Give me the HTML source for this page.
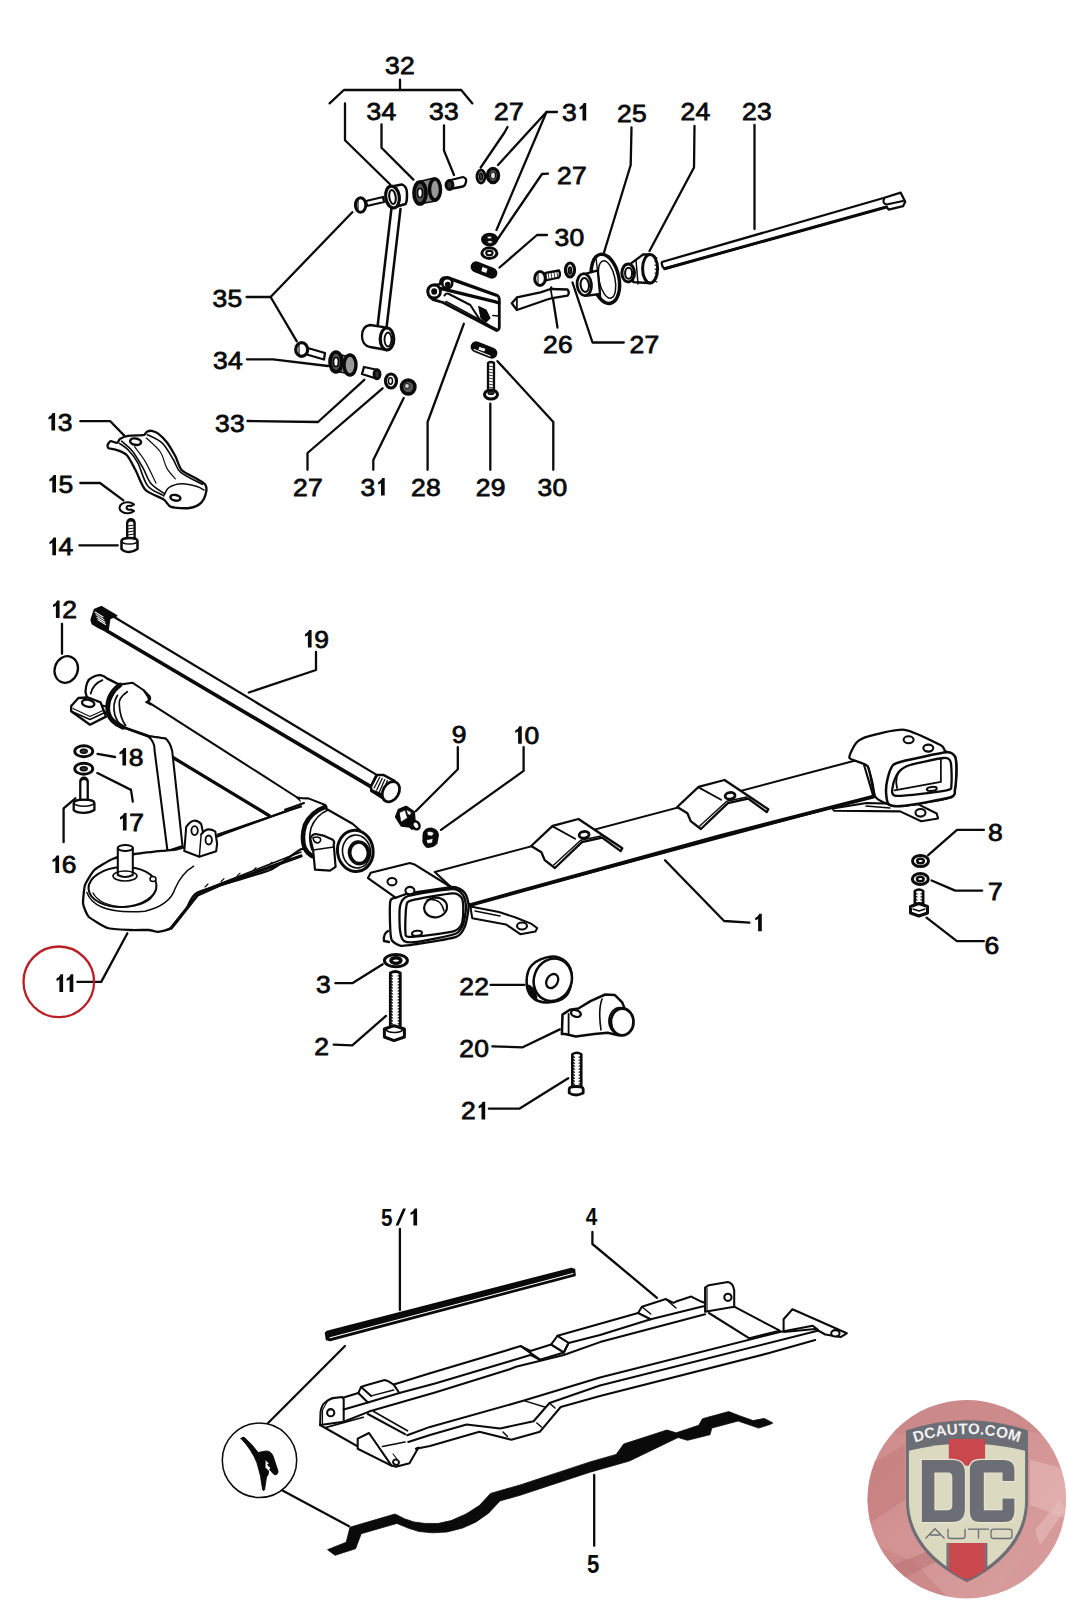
<!DOCTYPE html><html><head><meta charset="utf-8"><style>html,body{margin:0;padding:0;background:#fff;overflow:hidden}svg{display:block}</style></head><body>
<svg width="1067" height="1600" viewBox="0 0 1067 1600">
<rect width="1067" height="1600" fill="#fff"/>
<path d="M400.0,79.7 L400.0,90.0" fill="none" stroke="#0a0a0a" stroke-width="2.30" stroke-linejoin="round" stroke-linecap="round" />
<path d="M329.6,103.4 L343.9,90.0 L461.2,90.0 L472.4,103.4" fill="none" stroke="#0a0a0a" stroke-width="2.30" stroke-linejoin="round" stroke-linecap="round" />
<path d="M345.0,103.4 L345.0,140.3 L390.0,184.3" fill="none" stroke="#0a0a0a" stroke-width="2.30" stroke-linejoin="round" stroke-linecap="round" />
<path d="M381.5,124.3 L381.5,147.8 L413.4,179.6" fill="none" stroke="#0a0a0a" stroke-width="2.30" stroke-linejoin="round" stroke-linecap="round" />
<path d="M444.0,125.3 L444.0,150.6 L454.0,175.0" fill="none" stroke="#0a0a0a" stroke-width="2.30" stroke-linejoin="round" stroke-linecap="round" />
<path d="M507.5,127.0 L504.5,132.5 L480.7,167.5" fill="none" stroke="#0a0a0a" stroke-width="2.30" stroke-linejoin="round" stroke-linecap="round" />
<path d="M557.0,112.0 L546.5,112.0 L498.0,165.0" fill="none" stroke="#0a0a0a" stroke-width="2.30" stroke-linejoin="round" stroke-linecap="round" />
<path d="M546.5,112.0 L496.5,230.0" fill="none" stroke="#0a0a0a" stroke-width="2.30" stroke-linejoin="round" stroke-linecap="round" />
<path d="M548.0,173.7 L542.0,174.0 L497.0,240.0" fill="none" stroke="#0a0a0a" stroke-width="2.30" stroke-linejoin="round" stroke-linecap="round" />
<path d="M547.0,235.0 L537.0,235.0 L499.5,267.5" fill="none" stroke="#0a0a0a" stroke-width="2.30" stroke-linejoin="round" stroke-linecap="round" />
<path d="M631.5,127.5 L630.7,165.0 L604.0,252.5" fill="none" stroke="#0a0a0a" stroke-width="2.30" stroke-linejoin="round" stroke-linecap="round" />
<path d="M694.5,126.0 L694.0,167.5 L649.5,251.0" fill="none" stroke="#0a0a0a" stroke-width="2.30" stroke-linejoin="round" stroke-linecap="round" />
<path d="M754.5,125.0 L754.5,229.0" fill="none" stroke="#0a0a0a" stroke-width="2.30" stroke-linejoin="round" stroke-linecap="round" />
<path d="M246.6,297.0 L270.6,297.0 L352.3,212.2" fill="none" stroke="#0a0a0a" stroke-width="2.30" stroke-linejoin="round" stroke-linecap="round" />
<path d="M270.6,297.0 L296.8,341.3" fill="none" stroke="#0a0a0a" stroke-width="2.30" stroke-linejoin="round" stroke-linecap="round" />
<path d="M246.9,359.3 L273.0,359.3 L328.0,366.0" fill="none" stroke="#0a0a0a" stroke-width="2.30" stroke-linejoin="round" stroke-linecap="round" />
<path d="M551.2,287.5 L557.5,327.5" fill="none" stroke="#0a0a0a" stroke-width="2.30" stroke-linejoin="round" stroke-linecap="round" />
<path d="M572.5,282.5 L592.5,342.5 L623.8,342.5" fill="none" stroke="#0a0a0a" stroke-width="2.30" stroke-linejoin="round" stroke-linecap="round" />
<path d="M247.5,421.0 L318.0,422.0 L364.3,379.8" fill="none" stroke="#0a0a0a" stroke-width="2.30" stroke-linejoin="round" stroke-linecap="round" />
<path d="M307.5,469.8 L307.5,453.0 L382.6,388.3" fill="none" stroke="#0a0a0a" stroke-width="2.30" stroke-linejoin="round" stroke-linecap="round" />
<path d="M373.3,469.8 L373.3,460.0 L403.7,398.0" fill="none" stroke="#0a0a0a" stroke-width="2.30" stroke-linejoin="round" stroke-linecap="round" />
<path d="M427.6,469.8 L427.6,422.0 L463.8,323.8" fill="none" stroke="#0a0a0a" stroke-width="2.30" stroke-linejoin="round" stroke-linecap="round" />
<path d="M490.3,403.7 L490.3,469.8" fill="none" stroke="#0a0a0a" stroke-width="2.30" stroke-linejoin="round" stroke-linecap="round" />
<path d="M553.3,469.8 L553.3,422.0 L497.5,361.2" fill="none" stroke="#0a0a0a" stroke-width="2.30" stroke-linejoin="round" stroke-linecap="round" />
<path d="M80.3,421.2 L110.3,421.2 L124.3,435.6" fill="none" stroke="#0a0a0a" stroke-width="2.30" stroke-linejoin="round" stroke-linecap="round" />
<path d="M80.3,483.0 L100.0,483.0 L123.4,500.3" fill="none" stroke="#0a0a0a" stroke-width="2.30" stroke-linejoin="round" stroke-linecap="round" />
<path d="M79.4,545.3 L117.8,545.3" fill="none" stroke="#0a0a0a" stroke-width="2.30" stroke-linejoin="round" stroke-linecap="round" />
<path d="M62.0,623.8 L62.0,653.8" fill="none" stroke="#0a0a0a" stroke-width="2.30" stroke-linejoin="round" stroke-linecap="round" />
<path d="M248.8,692.5 L316.0,670.0 L316.0,652.0" fill="none" stroke="#0a0a0a" stroke-width="2.30" stroke-linejoin="round" stroke-linecap="round" />
<path d="M457.8,747.2 L457.8,769.2 L415.7,811.3" fill="none" stroke="#0a0a0a" stroke-width="2.30" stroke-linejoin="round" stroke-linecap="round" />
<path d="M523.6,747.2 L523.6,770.9 L441.0,829.9" fill="none" stroke="#0a0a0a" stroke-width="2.30" stroke-linejoin="round" stroke-linecap="round" />
<path d="M97.5,753.8 L115.0,757.0" fill="none" stroke="#0a0a0a" stroke-width="2.30" stroke-linejoin="round" stroke-linecap="round" />
<path d="M97.4,773.0 L131.0,789.9 L132.8,801.7" fill="none" stroke="#0a0a0a" stroke-width="2.30" stroke-linejoin="round" stroke-linecap="round" />
<path d="M75.4,798.3 L63.6,808.4 L63.6,842.2" fill="none" stroke="#0a0a0a" stroke-width="2.30" stroke-linejoin="round" stroke-linecap="round" />
<path d="M127.4,933.3 L101.2,981.9 L77.4,981.9" fill="none" stroke="#0a0a0a" stroke-width="2.30" stroke-linejoin="round" stroke-linecap="round" />
<path d="M335.4,983.2 L352.3,983.2 L382.7,964.3" fill="none" stroke="#0a0a0a" stroke-width="2.30" stroke-linejoin="round" stroke-linecap="round" />
<path d="M333.7,1044.6 L352.3,1045.3 L386.0,1015.9" fill="none" stroke="#0a0a0a" stroke-width="2.30" stroke-linejoin="round" stroke-linecap="round" />
<path d="M490.6,984.9 L524.4,984.9" fill="none" stroke="#0a0a0a" stroke-width="2.30" stroke-linejoin="round" stroke-linecap="round" />
<path d="M492.3,1046.3 L522.7,1047.3 L559.8,1029.4" fill="none" stroke="#0a0a0a" stroke-width="2.30" stroke-linejoin="round" stroke-linecap="round" />
<path d="M488.9,1108.7 L519.3,1108.7 L568.2,1078.3" fill="none" stroke="#0a0a0a" stroke-width="2.30" stroke-linejoin="round" stroke-linecap="round" />
<path d="M665.0,860.3 L724.1,921.0 L749.4,922.7" fill="none" stroke="#0a0a0a" stroke-width="2.30" stroke-linejoin="round" stroke-linecap="round" />
<path d="M928.2,855.2 L957.0,829.9 L983.9,829.9" fill="none" stroke="#0a0a0a" stroke-width="2.30" stroke-linejoin="round" stroke-linecap="round" />
<path d="M931.6,880.5 L955.2,890.6 L982.2,890.6" fill="none" stroke="#0a0a0a" stroke-width="2.30" stroke-linejoin="round" stroke-linecap="round" />
<path d="M926.5,917.6 L956.9,941.2 L983.9,941.2" fill="none" stroke="#0a0a0a" stroke-width="2.30" stroke-linejoin="round" stroke-linecap="round" />
<path d="M399.9,1229.0 L399.9,1310.0" fill="none" stroke="#0a0a0a" stroke-width="2.30" stroke-linejoin="round" stroke-linecap="round" />
<path d="M592.4,1232.0 L592.4,1244.0 L657.0,1297.8" fill="none" stroke="#0a0a0a" stroke-width="2.30" stroke-linejoin="round" stroke-linecap="round" />
<path d="M594.2,1475.0 L594.2,1545.8" fill="none" stroke="#0a0a0a" stroke-width="2.30" stroke-linejoin="round" stroke-linecap="round" />
<path d="M345.0,1346.0 L268.1,1423.0" fill="none" stroke="#0a0a0a" stroke-width="2.30" stroke-linejoin="round" stroke-linecap="round" />
<path d="M282.5,1490.5 L349.0,1526.2" fill="none" stroke="#0a0a0a" stroke-width="2.30" stroke-linejoin="round" stroke-linecap="round" />
<path d="M391.5,208.0 L377.5,327.0" fill="none" stroke="#0a0a0a" stroke-width="2.53" stroke-linejoin="round" stroke-linecap="round" />
<path d="M400.5,209.0 L386.5,328.0" fill="none" stroke="#0a0a0a" stroke-width="2.53" stroke-linejoin="round" stroke-linecap="round" />
<path d="M387.8,187.2 L401.8,184.4 Q407,186 407,194 Q407,202 405.6,204 L392.5,207.8 Z" fill="#fff" stroke="#0a0a0a" stroke-width="2.53" stroke-linejoin="round" stroke-linecap="round" />
<ellipse cx="392.5" cy="197" rx="6.8" ry="11" fill="#fff" stroke="#0a0a0a" stroke-width="3.22" transform="rotate(-8 392.5 197)" />
<ellipse cx="392.5" cy="197" rx="3.2" ry="7" fill="#fff" stroke="#0a0a0a" stroke-width="2.07" transform="rotate(-8 392.5 197)" />
<path d="M370,325 L387,327.7 L387,350 L370,347 Q362,345 362,336 Q362,326 370,325 Z" fill="#fff" stroke="#0a0a0a" stroke-width="2.30" stroke-linejoin="round" stroke-linecap="round" />
<ellipse cx="387" cy="339" rx="6.8" ry="11" fill="#fff" stroke="#0a0a0a" stroke-width="3.22" transform="rotate(0 387 339)" />
<ellipse cx="388" cy="339.5" rx="3.5" ry="7" fill="#fff" stroke="#0a0a0a" stroke-width="1.84" transform="rotate(0 388 339.5)" />
<path d="M366,201 L383,197 L384,202 L367,206 Z" fill="#fff" stroke="#0a0a0a" stroke-width="2.30" stroke-linejoin="round" stroke-linecap="round" />
<ellipse cx="360.6" cy="205" rx="5.2" ry="7.3" fill="#fff" stroke="#0a0a0a" stroke-width="2.99" transform="rotate(0 360.6 205)" />
<path d="M358.0,199.0 L358.0,211.0" fill="none" stroke="#0a0a0a" stroke-width="1.15" stroke-linejoin="round" stroke-linecap="round" />
<path d="M417,182 L434,178 L436,201 L419,204 Z" fill="#888" stroke="#0a0a0a" stroke-width="1.72" stroke-linejoin="round" stroke-linecap="round" />
<ellipse cx="420" cy="193" rx="6" ry="11" fill="#555" stroke="#0a0a0a" stroke-width="3.68" transform="rotate(0 420 193)" />
<ellipse cx="420" cy="193" rx="2.5" ry="4.5" fill="#fff" stroke="#0a0a0a" stroke-width="1.72" transform="rotate(0 420 193)" />
<ellipse cx="435" cy="189.5" rx="5.5" ry="10.5" fill="#999" stroke="#0a0a0a" stroke-width="3.45" transform="rotate(0 435 189.5)" />
<path d="M449,180.5 L463,177 Q467,178 466,182 Q465,186 463,186.5 L450,189 Z" fill="#fff" stroke="#0a0a0a" stroke-width="2.30" stroke-linejoin="round" stroke-linecap="round" />
<ellipse cx="449.5" cy="185" rx="3.5" ry="4.5" fill="#333" stroke="#0a0a0a" stroke-width="2.88" transform="rotate(0 449.5 185)" />
<ellipse cx="481" cy="176.5" rx="4" ry="6.5" fill="#fff" stroke="#0a0a0a" stroke-width="2.88" transform="rotate(0 481 176.5)" />
<ellipse cx="481" cy="176.5" rx="1.5" ry="3.5" fill="#444" stroke="#0a0a0a" stroke-width="1.38" transform="rotate(0 481 176.5)" />
<ellipse cx="493" cy="175.5" rx="5.5" ry="7" fill="#666" stroke="#0a0a0a" stroke-width="3.45" transform="rotate(0 493 175.5)" />
<ellipse cx="493" cy="175.5" rx="2.5" ry="3.5" fill="#ddd" stroke="#0a0a0a" stroke-width="1.15" transform="rotate(0 493 175.5)" />
<path d="M306,347.5 L325,353 L324,359.5 L305,354 Z" fill="#fff" stroke="#0a0a0a" stroke-width="2.30" stroke-linejoin="round" stroke-linecap="round" />
<ellipse cx="301.7" cy="349.5" rx="6" ry="6.8" fill="#fff" stroke="#0a0a0a" stroke-width="3.22" transform="rotate(0 301.7 349.5)" />
<path d="M299.0,344.0 L299.0,355.0" fill="none" stroke="#0a0a0a" stroke-width="1.15" stroke-linejoin="round" stroke-linecap="round" />
<path d="M333,353 L350,357 L351,374 L334,371 Z" fill="#888" stroke="#0a0a0a" stroke-width="1.72" stroke-linejoin="round" stroke-linecap="round" />
<ellipse cx="336" cy="362" rx="6" ry="10" fill="#555" stroke="#0a0a0a" stroke-width="3.68" transform="rotate(0 336 362)" />
<ellipse cx="336" cy="362" rx="2.5" ry="4.5" fill="#fff" stroke="#0a0a0a" stroke-width="1.72" transform="rotate(0 336 362)" />
<ellipse cx="350" cy="365" rx="6" ry="10" fill="#999" stroke="#0a0a0a" stroke-width="3.45" transform="rotate(0 350 365)" />
<path d="M364,367 L378,370 Q380.5,372 379,376 Q378,378 376,378.5 L362,374 Z" fill="#fff" stroke="#0a0a0a" stroke-width="2.30" stroke-linejoin="round" stroke-linecap="round" />
<ellipse cx="377" cy="374.2" rx="3" ry="4.5" fill="#333" stroke="#0a0a0a" stroke-width="2.88" transform="rotate(0 377 374.2)" />
<ellipse cx="391" cy="381" rx="5.5" ry="7" fill="#fff" stroke="#0a0a0a" stroke-width="3.22" transform="rotate(0 391 381)" />
<ellipse cx="390.5" cy="381" rx="2" ry="3.2" fill="#fff" stroke="#0a0a0a" stroke-width="1.49" transform="rotate(0 390.5 381)" />
<ellipse cx="408.2" cy="387" rx="6.8" ry="7" fill="#555" stroke="#0a0a0a" stroke-width="3.45" transform="rotate(0 408.2 387)" />
<ellipse cx="407" cy="386" rx="2.5" ry="2.5" fill="#ccc" stroke="#0a0a0a" stroke-width="0.92" transform="rotate(0 407 386)" />
<ellipse cx="489.6" cy="239.5" rx="7.2" ry="5.4" fill="#0a0a0a" stroke="#0a0a0a" stroke-width="2.76" transform="rotate(0 489.6 239.5)" />
<ellipse cx="489.5" cy="237.5" rx="2.2" ry="1.2" fill="#fff" stroke="#0a0a0a" stroke-width="0.57" transform="rotate(0 489.5 237.5)" />
<ellipse cx="490" cy="242" rx="2.5" ry="1.3" fill="#fff" stroke="#0a0a0a" stroke-width="0.57" transform="rotate(0 490 242)" />
<ellipse cx="489.4" cy="253.1" rx="7.5" ry="5.3" fill="#fff" stroke="#0a0a0a" stroke-width="2.99" transform="rotate(0 489.4 253.1)" />
<ellipse cx="489.4" cy="253.1" rx="3.2" ry="2.2" fill="#fff" stroke="#0a0a0a" stroke-width="2.07" transform="rotate(0 489.4 253.1)" />
<rect x="470" y="264.5" width="28" height="11" rx="5.5" transform="rotate(22 484 270)" fill="#0a0a0a"/>
<path d="M482.5,266.5 L488,268.5 L486.5,273.5 L481,271.5 Z" fill="#fff" stroke="#0a0a0a" stroke-width="0.92" stroke-linejoin="round" stroke-linecap="round" />
<rect x="470" y="344.5" width="28" height="11" rx="5.5" transform="rotate(22 484 350)" fill="#0a0a0a"/>
<path d="M479.5,346.5 L486,348.5 L484.5,352 L478,350 Z" fill="#fff" stroke="#0a0a0a" stroke-width="0.92" stroke-linejoin="round" stroke-linecap="round" />
<path d="M474.0,349.5 L490.0,356.0" fill="none" stroke="#fff" stroke-width="1.03" stroke-linejoin="round" stroke-linecap="round" />
<path d="M488,363 Q491,361 494,363 L494,391 L488,391 Z" fill="#fff" stroke="#0a0a0a" stroke-width="2.30" stroke-linejoin="round" stroke-linecap="round" />
<path d="M488.0,366.0 L494.0,367.0" fill="none" stroke="#0a0a0a" stroke-width="0.80" stroke-linejoin="round" stroke-linecap="round" />
<path d="M488.0,369.0 L494.0,370.0" fill="none" stroke="#0a0a0a" stroke-width="0.80" stroke-linejoin="round" stroke-linecap="round" />
<path d="M488.0,372.0 L494.0,373.0" fill="none" stroke="#0a0a0a" stroke-width="0.80" stroke-linejoin="round" stroke-linecap="round" />
<path d="M488.0,375.0 L494.0,376.0" fill="none" stroke="#0a0a0a" stroke-width="0.80" stroke-linejoin="round" stroke-linecap="round" />
<path d="M488.0,378.0 L494.0,379.0" fill="none" stroke="#0a0a0a" stroke-width="0.80" stroke-linejoin="round" stroke-linecap="round" />
<path d="M488.0,381.0 L494.0,382.0" fill="none" stroke="#0a0a0a" stroke-width="0.80" stroke-linejoin="round" stroke-linecap="round" />
<path d="M488.0,384.0 L494.0,385.0" fill="none" stroke="#0a0a0a" stroke-width="0.80" stroke-linejoin="round" stroke-linecap="round" />
<path d="M488.0,387.0 L494.0,388.0" fill="none" stroke="#0a0a0a" stroke-width="0.80" stroke-linejoin="round" stroke-linecap="round" />
<ellipse cx="491" cy="394.5" rx="6.5" ry="4.5" fill="#fff" stroke="#0a0a0a" stroke-width="2.99" transform="rotate(0 491 394.5)" />
<ellipse cx="491" cy="393" rx="3" ry="1.5" fill="#333" stroke="#0a0a0a" stroke-width="1.15" transform="rotate(0 491 393)" />
<path d="M443,302.5 L496.5,330.6 Q499.3,330 499.3,327 L499.3,299 Q499,296 496.5,295 L451,278.5 Q447,276.5 443,278 Q440,280 440.5,284 L436,285 Q428,284.5 427.8,291.5 Q428,299 436.6,300.6 Z" fill="#fff" stroke="#0a0a0a" stroke-width="2.76" stroke-linejoin="round" stroke-linecap="round" />
<ellipse cx="447.3" cy="283.3" rx="5" ry="5" fill="#fff" stroke="#0a0a0a" stroke-width="2.53" transform="rotate(0 447.3 283.3)" />
<ellipse cx="447.8" cy="284.7" rx="2" ry="2" fill="#0a0a0a" stroke="#0a0a0a" stroke-width="1.72" transform="rotate(0 447.8 284.7)" />
<ellipse cx="434.2" cy="291.5" rx="6.3" ry="6.5" fill="#fff" stroke="#0a0a0a" stroke-width="2.76" transform="rotate(0 434.2 291.5)" />
<ellipse cx="434.2" cy="291.5" rx="2.3" ry="2.6" fill="#0a0a0a" stroke="#0a0a0a" stroke-width="1.38" transform="rotate(0 434.2 291.5)" />
<path d="M440.3,288.4 L494.7,301.6 L499.0,303.0" fill="none" stroke="#0a0a0a" stroke-width="3.22" stroke-linejoin="round" stroke-linecap="round" />
<path d="M451.0,280.0 L496.0,296.0" fill="none" stroke="#0a0a0a" stroke-width="1.38" stroke-linejoin="round" stroke-linecap="round" />
<path d="M444.5,295.5 Q446,292.5 449,294 L470.3,305 L480,320 L490,326 L496,329" fill="none" stroke="#0a0a0a" stroke-width="2.07" stroke-linejoin="round" stroke-linecap="round" />
<path d="M446.0,301.6 L482.5,321.2" fill="none" stroke="#0a0a0a" stroke-width="1.72" stroke-linejoin="round" stroke-linecap="round" />
<path d="M478.7,306.5 L486,310 L490,318 L486,322 L481,318 Z" fill="#0a0a0a" stroke="#0a0a0a" stroke-width="1.15" stroke-linejoin="round" stroke-linecap="round" />
<path d="M492.8,315.6 L499.0,316.0" fill="none" stroke="#0a0a0a" stroke-width="1.49" stroke-linejoin="round" stroke-linecap="round" />
<path d="M545.5,272.9 L559,270.5 Q561,274 559,277.5 L545.5,280.5 Z" fill="#fff" stroke="#0a0a0a" stroke-width="2.30" stroke-linejoin="round" stroke-linecap="round" />
<path d="M548.0,272.5 L549.0,279.0" fill="none" stroke="#0a0a0a" stroke-width="0.80" stroke-linejoin="round" stroke-linecap="round" />
<path d="M551.0,272.5 L552.0,279.0" fill="none" stroke="#0a0a0a" stroke-width="0.80" stroke-linejoin="round" stroke-linecap="round" />
<path d="M554.0,272.5 L555.0,279.0" fill="none" stroke="#0a0a0a" stroke-width="0.80" stroke-linejoin="round" stroke-linecap="round" />
<path d="M557.0,272.5 L558.0,279.0" fill="none" stroke="#0a0a0a" stroke-width="0.80" stroke-linejoin="round" stroke-linecap="round" />
<ellipse cx="540" cy="278.5" rx="5.3" ry="7" fill="#fff" stroke="#0a0a0a" stroke-width="2.99" transform="rotate(0 540 278.5)" />
<path d="M538.0,272.0 L538.0,285.0" fill="none" stroke="#0a0a0a" stroke-width="1.03" stroke-linejoin="round" stroke-linecap="round" />
<path d="M511.8,303.3 L516.9,297.4 L540.5,292.3 L550.6,289 L567.5,289.5 Q570,293 567.5,295.7 L552.3,298.2 L547.2,299.5 L516.9,310 Z" fill="#fff" stroke="#0a0a0a" stroke-width="2.30" stroke-linejoin="round" stroke-linecap="round" />
<path d="M516.9,297.4 L516.9,310.0" fill="none" stroke="#0a0a0a" stroke-width="1.72" stroke-linejoin="round" stroke-linecap="round" />
<path d="M550.6,289.0 L552.3,298.2" fill="none" stroke="#0a0a0a" stroke-width="1.72" stroke-linejoin="round" stroke-linecap="round" />
<ellipse cx="570" cy="270" rx="4.5" ry="7" fill="#fff" stroke="#0a0a0a" stroke-width="3.22" transform="rotate(0 570 270)" />
<ellipse cx="570" cy="270.5" rx="1.5" ry="3.5" fill="#333" stroke="#0a0a0a" stroke-width="1.49" transform="rotate(0 570 270.5)" />
<ellipse cx="605.4" cy="278.8" rx="13.5" ry="25" fill="#fff" stroke="#0a0a0a" stroke-width="3.45" transform="rotate(-12 605.4 278.8)" />
<ellipse cx="607" cy="279.5" rx="8" ry="19" fill="none" stroke="#0a0a0a" stroke-width="1.49" transform="rotate(-12 607 279.5)" />
<path d="M596.0,258.0 L601.0,300.0" fill="none" stroke="#0a0a0a" stroke-width="1.38" stroke-linejoin="round" stroke-linecap="round" />
<path d="M582.7,274.6 L597.8,270.4 L600,294 L587.7,295.7 Z" fill="#fff" stroke="#0a0a0a" stroke-width="2.30" stroke-linejoin="round" stroke-linecap="round" />
<ellipse cx="584.3" cy="284.7" rx="7.2" ry="11" fill="#fff" stroke="#0a0a0a" stroke-width="2.76" transform="rotate(-6 584.3 284.7)" />
<ellipse cx="584.8" cy="285" rx="4.2" ry="7" fill="#fff" stroke="#0a0a0a" stroke-width="2.07" transform="rotate(-6 584.8 285)" />
<path d="M630.7,263.6 L643.4,254.3 L650,254.5 L650.5,283 L648.4,283 L633.3,282.2 Z" fill="#fff" stroke="#0a0a0a" stroke-width="2.30" stroke-linejoin="round" stroke-linecap="round" />
<ellipse cx="650.1" cy="268.7" rx="7.5" ry="14.3" fill="#fff" stroke="#0a0a0a" stroke-width="2.99" transform="rotate(0 650.1 268.7)" />
<path d="M655.0,257.0 L657.0,258.0" fill="none" stroke="#0a0a0a" stroke-width="1.15" stroke-linejoin="round" stroke-linecap="round" />
<path d="M655.0,261.0 L657.0,262.0" fill="none" stroke="#0a0a0a" stroke-width="1.15" stroke-linejoin="round" stroke-linecap="round" />
<path d="M655.0,265.0 L657.0,266.0" fill="none" stroke="#0a0a0a" stroke-width="1.15" stroke-linejoin="round" stroke-linecap="round" />
<path d="M655.0,269.0 L657.0,270.0" fill="none" stroke="#0a0a0a" stroke-width="1.15" stroke-linejoin="round" stroke-linecap="round" />
<path d="M655.0,273.0 L657.0,274.0" fill="none" stroke="#0a0a0a" stroke-width="1.15" stroke-linejoin="round" stroke-linecap="round" />
<path d="M655.0,277.0 L657.0,278.0" fill="none" stroke="#0a0a0a" stroke-width="1.15" stroke-linejoin="round" stroke-linecap="round" />
<path d="M655.0,281.0 L657.0,282.0" fill="none" stroke="#0a0a0a" stroke-width="1.15" stroke-linejoin="round" stroke-linecap="round" />
<ellipse cx="628.2" cy="272.9" rx="6.3" ry="9" fill="#fff" stroke="#0a0a0a" stroke-width="2.99" transform="rotate(0 628.2 272.9)" />
<ellipse cx="628.6" cy="273.2" rx="3.5" ry="5.5" fill="#fff" stroke="#0a0a0a" stroke-width="2.07" transform="rotate(0 628.6 273.2)" />
<path d="M636.0,260.0 L638.0,284.0" fill="none" stroke="#0a0a0a" stroke-width="1.49" stroke-linejoin="round" stroke-linecap="round" />
<path d="M662,262 L883.5,198 L900.7,192.7 L905.2,201.7 L903,206.2 L888.7,209.6 L886.5,207 L664.5,268.7 Q661,266 662,262 Z" fill="#fff" stroke="#0a0a0a" stroke-width="2.30" stroke-linejoin="round" stroke-linecap="round" />
<path d="M664.5,268.7 L886.5,207.0" fill="none" stroke="#0a0a0a" stroke-width="2.99" stroke-linejoin="round" stroke-linecap="round" />
<path d="M884.2,198.7 Q882,203 886.5,204.5 L903,201" fill="none" stroke="#0a0a0a" stroke-width="2.07" stroke-linejoin="round" stroke-linecap="round" />
<path d="M108.1,443.9 C108.5,443.3 109.6,441.3 110.8,441.2 C112.0,441.1 116.0,443.1 117.2,442.8 C118.4,442.5 118.5,439.9 119.9,439.0 C121.3,438.1 124.9,436.3 128.0,435.8 C131.1,435.3 140.8,435.5 143.1,435.2 C145.4,434.9 144.7,434.1 145.3,433.6 C145.9,433.1 146.5,431.9 147.4,431.5 C148.3,431.1 150.3,430.6 151.7,430.9 C153.1,431.2 156.2,432.1 158.2,433.6 C160.2,435.1 164.5,439.2 166.8,442.2 C169.1,445.2 173.4,452.6 175.4,456.3 C177.4,460.0 179.0,467.3 181.9,470.3 C184.8,473.3 193.9,477.0 197.0,478.9 C200.1,480.8 203.9,482.6 205.1,484.3 C206.3,486.0 206.7,489.4 206.2,491.8 C205.7,494.2 203.5,500.4 201.3,502.6 C199.1,504.8 193.5,507.4 189.5,508.0 C185.5,508.6 174.6,508.0 171.1,506.9 C167.6,505.8 167.0,501.7 163.6,499.4 C160.2,497.1 149.0,493.6 145.3,489.7 C141.6,485.8 138.1,474.9 135.6,470.3 C133.1,465.7 129.5,457.9 126.9,455.2 C124.3,452.5 118.6,450.7 116.2,449.8 C113.8,448.9 109.8,448.8 108.6,448.2 C107.4,447.6 107.6,446.1 107.5,445.5 C107.4,444.9 107.7,444.5 108.1,443.9 Z" fill="#fff" stroke="#0a0a0a" stroke-width="2.30" stroke-linejoin="round" stroke-linecap="round" />
<path d="M119.4,443.3 C120.8,444.4 125.0,446.6 128.0,449.8 C131.1,453.0 134.5,456.8 137.7,462.7 C140.9,468.6 143.3,480.0 147.4,485.4 C151.5,490.8 160.0,493.5 162.5,495.1" fill="none" stroke="#0a0a0a" stroke-width="1.61" stroke-linejoin="round" stroke-linecap="round" />
<path d="M121.6,441.2 C123.4,442.8 128.7,446.4 132.3,450.9 C135.9,455.4 140.0,462.7 143.1,468.1 C146.2,473.5 147.1,478.9 150.7,483.2 C154.3,487.5 162.4,492.2 164.7,494.0" fill="none" stroke="#0a0a0a" stroke-width="1.61" stroke-linejoin="round" stroke-linecap="round" />
<path d="M163.6,496.0 C164.5,494.6 165.9,489.6 169.0,487.5 C172.1,485.4 177.2,483.9 181.9,483.7 C186.6,483.5 193.3,485.4 197.0,486.5 C200.7,487.6 202.8,489.4 204.0,490.0" fill="none" stroke="#0a0a0a" stroke-width="1.49" stroke-linejoin="round" stroke-linecap="round" />
<path d="M147.4,434.7 C149.9,436.1 158.2,439.2 162.5,443.3 C166.8,447.4 170.2,454.6 173.3,459.5 C176.4,464.4 176.0,468.3 180.8,472.4 C185.7,476.5 198.8,482.3 202.4,484.3" fill="none" stroke="#0a0a0a" stroke-width="1.61" stroke-linejoin="round" stroke-linecap="round" />
<path d="M146.3,438.0 C148.7,440.3 157.0,447.0 160.4,452.0 C163.8,457.0 164.3,463.6 166.8,468.1 C169.3,472.6 174.0,477.1 175.4,478.9" fill="none" stroke="#0a0a0a" stroke-width="1.15" stroke-linejoin="round" stroke-linecap="round" />
<path d="M134.5,446.6 C136.3,449.1 141.7,455.5 145.3,461.6 C148.9,467.7 154.2,479.6 156.0,483.2" fill="none" stroke="#0a0a0a" stroke-width="1.15" stroke-linejoin="round" stroke-linecap="round" />
<ellipse cx="135.6" cy="441.7" rx="5.5" ry="3.2" fill="#fff" stroke="#0a0a0a" stroke-width="2.53" transform="rotate(10 135.6 441.7)" />
<ellipse cx="175.4" cy="497.8" rx="5" ry="2.8" fill="#fff" stroke="#0a0a0a" stroke-width="2.53" transform="rotate(10 175.4 497.8)" />
<path d="M134,504.5 A8,5.5 0 1 0 134,511 L131,509.5 A3,2 0 1 1 131,506 Z" fill="#fff" stroke="#0a0a0a" stroke-width="2.07" stroke-linejoin="round" stroke-linecap="round" />
<path d="M130.9,523.0 L130.9,538.0" fill="none" stroke="#0a0a0a" stroke-width="9.77" stroke-linejoin="round" stroke-linecap="round" />
<path d="M130.9,524.0 L130.9,537.0" fill="none" stroke="#fff" stroke-width="5.17" stroke-linejoin="round" stroke-linecap="round" />
<path d="M127.5,526.0 L134.3,525.0" fill="none" stroke="#0a0a0a" stroke-width="1.03" stroke-linejoin="round" stroke-linecap="round" />
<path d="M127.5,529.0 L134.3,528.0" fill="none" stroke="#0a0a0a" stroke-width="1.03" stroke-linejoin="round" stroke-linecap="round" />
<path d="M127.5,532.0 L134.3,531.0" fill="none" stroke="#0a0a0a" stroke-width="1.03" stroke-linejoin="round" stroke-linecap="round" />
<path d="M127.5,535.0 L134.3,534.0" fill="none" stroke="#0a0a0a" stroke-width="1.03" stroke-linejoin="round" stroke-linecap="round" />
<path d="M121.5,541 Q121.5,538 129.5,538 Q137.5,538 137.5,541 L137.5,549 Q133,552 129.5,552 Q124,552 121.5,549 Z" fill="#fff" stroke="#0a0a0a" stroke-width="2.53" stroke-linejoin="round" stroke-linecap="round" />
<ellipse cx="129.5" cy="541" rx="8" ry="3" fill="none" stroke="#0a0a0a" stroke-width="1.38" transform="rotate(0 129.5 541)" />
<path d="M110,614.5 L376.7,774.9 L370.8,786.7 L107.5,631.25 Z" fill="#fff" stroke="#0a0a0a" stroke-width="2.18" stroke-linejoin="round" stroke-linecap="round" />
<path d="M108.0,631.5 L370.8,786.7" fill="none" stroke="#0a0a0a" stroke-width="3.68" stroke-linejoin="round" stroke-linecap="round" />
<path d="M376.7,774.9 L383.3,774.9 L394.5,780.8 L386,799.9 L371.5,790.7 L370.8,786.7 Z" fill="#fff" stroke="#0a0a0a" stroke-width="2.53" stroke-linejoin="round" stroke-linecap="round" />
<path d="M377.0,776.5 L371.5,786.0" fill="none" stroke="#0a0a0a" stroke-width="1.26" stroke-linejoin="round" stroke-linecap="round" />
<path d="M379.6,777.5 L374.1,788.0" fill="none" stroke="#0a0a0a" stroke-width="1.26" stroke-linejoin="round" stroke-linecap="round" />
<path d="M382.2,778.5 L376.7,790.0" fill="none" stroke="#0a0a0a" stroke-width="1.26" stroke-linejoin="round" stroke-linecap="round" />
<path d="M384.8,779.5 L379.3,792.0" fill="none" stroke="#0a0a0a" stroke-width="1.26" stroke-linejoin="round" stroke-linecap="round" />
<path d="M387.4,780.5 L381.9,794.0" fill="none" stroke="#0a0a0a" stroke-width="1.26" stroke-linejoin="round" stroke-linecap="round" />
<path d="M371.5,790.7 L386,799.9 L383,795 Z" fill="#0a0a0a" stroke="#0a0a0a" stroke-width="2.88" stroke-linejoin="round" stroke-linecap="round" />
<ellipse cx="390.9" cy="791.7" rx="7.9" ry="10.8" fill="#fff" stroke="#0a0a0a" stroke-width="2.76" transform="rotate(30 390.9 791.7)" />
<path d="M91.2,619.7 L94.6,609.6 L101.4,606.8 L116.6,615.8 L108.1,619.2 L106.4,626.5 L107.6,632.1 L98.6,627.6 L92.4,623.7 Z" fill="#0a0a0a" stroke="#0a0a0a" stroke-width="1.72" stroke-linejoin="round" stroke-linecap="round" />
<path d="M95.0,612.0 L103.0,617.0" fill="none" stroke="#fff" stroke-width="1.03" stroke-linejoin="round" stroke-linecap="round" />
<path d="M96.0,614.6 L104.0,619.6" fill="none" stroke="#fff" stroke-width="1.03" stroke-linejoin="round" stroke-linecap="round" />
<path d="M97.0,617.2 L105.0,622.2" fill="none" stroke="#fff" stroke-width="1.03" stroke-linejoin="round" stroke-linecap="round" />
<path d="M98.0,619.8 L106.0,624.8" fill="none" stroke="#fff" stroke-width="1.03" stroke-linejoin="round" stroke-linecap="round" />
<path d="M108.1,619.5 Q105,626 107.6,632" fill="none" stroke="#0a0a0a" stroke-width="1.38" stroke-linejoin="round" stroke-linecap="round" />
<ellipse cx="66.25" cy="669.5" rx="11.5" ry="13.5" fill="none" stroke="#0a0a0a" stroke-width="2.30" transform="rotate(20 66.25 669.5)" />
<path d="M119,685 L151,703.9 L297.2,797.5 L306,806 L306,845 L300,849 L268.9,815.5 L173,757.5 L165.4,738.4 L147.7,735.9 L124,727.5 Z" fill="#fff" stroke="#0a0a0a" stroke-width="2.07" stroke-linejoin="round" stroke-linecap="round" />
<path d="M147.7,735.9 L124.0,727.5" fill="none" stroke="#0a0a0a" stroke-width="2.88" stroke-linejoin="round" stroke-linecap="round" />
<path d="M173.0,757.5 L268.9,815.5" fill="none" stroke="#0a0a0a" stroke-width="3.22" stroke-linejoin="round" stroke-linecap="round" />
<path d="M147.7,735.9 Q155,742 154.5,750 L167.5,851 L182.5,846 L172.2,751 Q170,742 165.4,738.4 Z" fill="#fff" stroke="#0a0a0a" stroke-width="2.07" stroke-linejoin="round" stroke-linecap="round" />
<path d="M134.7,854.0 C139.2,853.3 164.0,850.7 167.5,850.3 C171.0,849.9 172.4,850.6 176.8,849.4 C181.2,848.1 209.7,838.9 220.0,835.3 C230.3,831.7 292.7,808.0 301.0,806.3 C309.3,804.6 317.6,811.8 320.0,815.0 C322.4,818.2 331.6,842.1 330.0,845.0 C328.4,847.9 306.0,847.2 301.0,849.3 C296.0,851.4 278.6,866.4 270.0,870.0 C261.4,873.6 204.5,889.2 197.5,892.5 C190.5,895.8 188.4,906.3 186.2,909.3 C184.0,912.3 173.5,926.1 171.2,928.0 C168.9,929.9 160.0,931.6 158.1,931.8 C156.2,932.0 151.0,930.1 148.7,930.0 C146.4,929.9 133.4,930.2 130.0,930.0 C126.6,929.8 110.9,929.1 107.5,928.0 C104.1,926.9 90.7,918.8 88.7,916.8 C86.7,914.8 83.4,906.4 83.1,903.7 C82.8,901.1 84.1,887.8 85.0,885.0 C85.9,882.2 92.1,872.2 94.4,870.0 C96.7,867.8 109.7,860.0 113.1,858.7 C116.5,857.4 130.2,854.7 134.7,854.0 Z" fill="#fff" stroke="#0a0a0a" stroke-width="2.30" stroke-linejoin="round" stroke-linecap="round" />
<path d="M218.0,834.4 L301.0,806.3" fill="none" stroke="#0a0a0a" stroke-width="1.84" stroke-linejoin="round" stroke-linecap="round" />
<path d="M197.5,892.5 L301.0,852.0" fill="none" stroke="#0a0a0a" stroke-width="1.49" stroke-linejoin="round" stroke-linecap="round" />
<path d="M171.2,928.0 L186.2,909.3 L197.5,895.0 L220.0,885.0 L301.0,856.0" fill="none" stroke="#0a0a0a" stroke-width="3.22" stroke-linejoin="round" stroke-linecap="round" />
<path d="M205.0,887.0 L208.0,884.0" fill="none" stroke="#0a0a0a" stroke-width="1.15" stroke-linejoin="round" stroke-linecap="round" />
<path d="M221.0,881.6 L224.0,878.6" fill="none" stroke="#0a0a0a" stroke-width="1.15" stroke-linejoin="round" stroke-linecap="round" />
<path d="M237.0,876.1 L240.0,873.1" fill="none" stroke="#0a0a0a" stroke-width="1.15" stroke-linejoin="round" stroke-linecap="round" />
<path d="M253.0,870.7 L256.0,867.7" fill="none" stroke="#0a0a0a" stroke-width="1.15" stroke-linejoin="round" stroke-linecap="round" />
<path d="M269.0,865.2 L272.0,862.2" fill="none" stroke="#0a0a0a" stroke-width="1.15" stroke-linejoin="round" stroke-linecap="round" />
<path d="M285.0,859.8 L288.0,856.8" fill="none" stroke="#0a0a0a" stroke-width="1.15" stroke-linejoin="round" stroke-linecap="round" />
<path d="M86.9,892.5 Q95,915 145,911.2 Q170,905 175,888.7 Q182,873 193.7,866.2" fill="none" stroke="#0a0a0a" stroke-width="1.49" stroke-linejoin="round" stroke-linecap="round" />
<ellipse cx="122.5" cy="887" rx="34" ry="20" fill="#fff" stroke="#0a0a0a" stroke-width="2.07" transform="rotate(-3 122.5 887)" />
<path d="M93,893 Q100,906 125,907 Q150,905 154,893" fill="none" stroke="#0a0a0a" stroke-width="1.38" stroke-linejoin="round" stroke-linecap="round" />
<ellipse cx="153" cy="879" rx="3" ry="2.5" fill="#fff" stroke="#0a0a0a" stroke-width="1.49" transform="rotate(0 153 879)" />
<path d="M117.8,848 L117.8,875 Q125,879 132.8,875 L132.8,848 Z" fill="#fff" stroke="#0a0a0a" stroke-width="2.07" stroke-linejoin="round" stroke-linecap="round" />
<ellipse cx="125.3" cy="848" rx="7.5" ry="3" fill="#fff" stroke="#0a0a0a" stroke-width="2.07" transform="rotate(0 125.3 848)" />
<ellipse cx="125" cy="876" rx="12" ry="5" fill="none" stroke="#0a0a0a" stroke-width="1.61" transform="rotate(0 125 876)" />
<path d="M184.3,851 L186.2,826.9 Q193.7,816 201.2,824 L203,832.5 L201.2,834.4 Q206.8,826 215.3,831.5 L217.1,843.7 L216.2,851.2 L199.3,856.8 Z" fill="#fff" stroke="#0a0a0a" stroke-width="2.07" stroke-linejoin="round" stroke-linecap="round" />
<path d="M201.2,834.4 L199.3,856.8" fill="none" stroke="#0a0a0a" stroke-width="1.49" stroke-linejoin="round" stroke-linecap="round" />
<ellipse cx="194.6" cy="830.6" rx="3.2" ry="4.5" fill="#fff" stroke="#0a0a0a" stroke-width="1.84" transform="rotate(0 194.6 830.6)" />
<ellipse cx="208.7" cy="840" rx="3.2" ry="4.5" fill="#fff" stroke="#0a0a0a" stroke-width="1.84" transform="rotate(0 208.7 840)" />
<path d="M300,799 Q303,797 310,798.4 L326,805 L362,830 L372,852 L360,872 L318,871 L305,850 L304,815 Z" fill="#fff"/>
<path d="M297.2,797.5 Q302,798.5 308.4,798.4 L325.3,805" fill="none" stroke="#0a0a0a" stroke-width="2.07" stroke-linejoin="round" stroke-linecap="round" />
<path d="M285.0,809.7 L304.0,803.0" fill="none" stroke="#0a0a0a" stroke-width="2.07" stroke-linejoin="round" stroke-linecap="round" />
<path d="M325.3,806.9 Q311,812 305,825 Q301,838 304.7,848.1 Q307,853 312,856" fill="none" stroke="#0a0a0a" stroke-width="4.60" stroke-linejoin="round" stroke-linecap="round" />
<path d="M328,810 Q316,815 311,828 Q308,840 312,850" fill="none" stroke="#0a0a0a" stroke-width="1.61" stroke-linejoin="round" stroke-linecap="round" />
<path d="M326.2,808.7 L352.5,823.7 L360,830.3" fill="none" stroke="#0a0a0a" stroke-width="2.18" stroke-linejoin="round" stroke-linecap="round" />
<path d="M310.3,838.7 Q312,834 315.9,834 L324.4,835.9 L332.8,839.7 Q335,842 333.7,844 L335.6,866.9 L330,870.6 L315,869.7 L313.1,850 Z" fill="#fff" stroke="#0a0a0a" stroke-width="2.18" stroke-linejoin="round" stroke-linecap="round" />
<path d="M313,838 Q316,836 320,838 Q322,841 318,843 Q314,843 313,838 Z" fill="#fff" stroke="#0a0a0a" stroke-width="1.61" stroke-linejoin="round" stroke-linecap="round" />
<path d="M313.1,850.0 L333.7,847.0" fill="none" stroke="#0a0a0a" stroke-width="1.61" stroke-linejoin="round" stroke-linecap="round" />
<ellipse cx="355.3" cy="850.9" rx="17.8" ry="20.6" fill="#fff" stroke="#0a0a0a" stroke-width="2.99" transform="rotate(-8 355.3 850.9)" />
<ellipse cx="356.5" cy="851.5" rx="14" ry="16.5" fill="none" stroke="#0a0a0a" stroke-width="1.61" transform="rotate(-8 356.5 851.5)" />
<ellipse cx="359" cy="852.8" rx="9.4" ry="10.8" fill="#fff" stroke="#0a0a0a" stroke-width="3.68" transform="rotate(-8 359 852.8)" />
<path d="M85.5,692 Q86,680 92,677.5 Q97,674.5 100.6,675.2 Q104,676 106.9,678.4 L119.3,684.6 L108,707 L88,702 Z" fill="#fff" stroke="#0a0a0a" stroke-width="2.30" stroke-linejoin="round" stroke-linecap="round" />
<path d="M90.8,693.5 Q93,684 102.4,680.1" fill="none" stroke="#0a0a0a" stroke-width="1.84" stroke-linejoin="round" stroke-linecap="round" />
<path d="M71.2,706 L78.4,698 L88.2,697.5 L100.6,702.4 L103.3,709.5 L106,716.6 L90,724.7 L71.2,711.3 Z" fill="#fff" stroke="#0a0a0a" stroke-width="2.30" stroke-linejoin="round" stroke-linecap="round" />
<path d="M71.2,711.3 L90.0,719.5 L106.0,712.0" fill="none" stroke="#0a0a0a" stroke-width="1.49" stroke-linejoin="round" stroke-linecap="round" />
<path d="M73.0,708.5 L90.0,716.5 L104.0,710.0" fill="none" stroke="#0a0a0a" stroke-width="1.03" stroke-linejoin="round" stroke-linecap="round" />
<ellipse cx="88.2" cy="703.3" rx="6.3" ry="3.5" fill="#fff" stroke="#0a0a0a" stroke-width="2.30" transform="rotate(12 88.2 703.3)" />
<path d="M119.3,684.6 L132.7,682.8 L143.4,690 L149.6,696.2 Q151.5,700 146.9,702.4 L152,705 L132,718 L125,727 L112,722 L107.7,707 Z" fill="#fff"/>
<path d="M119.3,684.6 L132.7,682.8 L143.4,690 L149.6,696.2 Q151.5,700 146.9,702.4 L151,704.5" fill="none" stroke="#0a0a0a" stroke-width="2.07" stroke-linejoin="round" stroke-linecap="round" />
<path d="M120,685 Q106,695 108,712 Q110,722 122.9,727.3" fill="none" stroke="#0a0a0a" stroke-width="4.83" stroke-linejoin="round" stroke-linecap="round" />
<path d="M143.4,690 L148,697 Q150,701 146,702" fill="none" stroke="#0a0a0a" stroke-width="1.72" stroke-linejoin="round" stroke-linecap="round" />
<path d="M117.5,695.3 Q112,704 114.9,714.9 Q117,722 122,725.6" fill="none" stroke="#0a0a0a" stroke-width="1.72" stroke-linejoin="round" stroke-linecap="round" />
<path d="M127.3,691.7 Q118,698 119.3,705 Q120,718 125.6,725.6" fill="none" stroke="#0a0a0a" stroke-width="1.72" stroke-linejoin="round" stroke-linecap="round" />
<ellipse cx="83.75" cy="751.25" rx="9" ry="5.5" fill="#fff" stroke="#0a0a0a" stroke-width="2.88" transform="rotate(0 83.75 751.25)" />
<ellipse cx="83.75" cy="751.25" rx="3.5" ry="2" fill="#333" stroke="#0a0a0a" stroke-width="1.38" transform="rotate(0 83.75 751.25)" />
<ellipse cx="83.75" cy="768.75" rx="9" ry="5.5" fill="#fff" stroke="#0a0a0a" stroke-width="2.88" transform="rotate(0 83.75 768.75)" />
<ellipse cx="83.75" cy="768.75" rx="3.5" ry="2" fill="#333" stroke="#0a0a0a" stroke-width="1.38" transform="rotate(0 83.75 768.75)" />
<path d="M84.0,781.5 L84.0,800.0" fill="none" stroke="#0a0a0a" stroke-width="9.77" stroke-linejoin="round" stroke-linecap="round" />
<path d="M84.0,782.5 L84.0,799.0" fill="none" stroke="#fff" stroke-width="5.17" stroke-linejoin="round" stroke-linecap="round" />
<path d="M73.7,803 Q74,799.7 84,799.7 Q94.4,799.7 94.4,803 L94.4,810 Q90,812.8 84,812.8 Q76,812.8 73.7,810 Z" fill="#fff" stroke="#0a0a0a" stroke-width="2.30" stroke-linejoin="round" stroke-linecap="round" />
<ellipse cx="84" cy="803" rx="10" ry="3.2" fill="none" stroke="#0a0a0a" stroke-width="1.49" transform="rotate(0 84 803)" />
<circle cx="58.8" cy="981.8" r="35.3" fill="none" stroke="#b82025" stroke-width="2.3"/>
<path d="M434.8,871.9 L862.2,758.7 L873.4,796.6 L470.4,904.9 Z" fill="#fff" stroke="#0a0a0a" stroke-width="2.07" stroke-linejoin="round" stroke-linecap="round" />
<path d="M470.4,904.9 L720.0,836.0 L873.4,796.6" fill="none" stroke="#0a0a0a" stroke-width="3.68" stroke-linejoin="round" stroke-linecap="round" />
<path d="M531.2,846.0 L552.6,825.8 L578.5,819.0 L622.3,848.3 L620.7,851.1 L602.1,837.6 L581.9,842.1 L554.9,868.0 L544.7,860.1 L541.4,852.2 Z" fill="#fff" stroke="#0a0a0a" stroke-width="2.30" stroke-linejoin="round" stroke-linecap="round" />
<path d="M552.6,826.4 L575.1,838.7" fill="none" stroke="#0a0a0a" stroke-width="1.84" stroke-linejoin="round" stroke-linecap="round" />
<path d="M553.7,865.0 L580.7,840.3 L601.0,836.0" fill="none" stroke="#0a0a0a" stroke-width="1.38" stroke-linejoin="round" stroke-linecap="round" />
<ellipse cx="584.1" cy="834.8" rx="5" ry="3.3" fill="#fff" stroke="#0a0a0a" stroke-width="2.76" transform="rotate(-8 584.1 834.8)" />
<path d="M677.2,807.0 L698.6,786.8 L724.5,780.0 L768.3,809.3 L766.7,812.1 L748.1,798.6 L727.9,803.1 L700.9,829.0 L690.7,821.1 L687.4,813.2 Z" fill="#fff" stroke="#0a0a0a" stroke-width="2.30" stroke-linejoin="round" stroke-linecap="round" />
<path d="M698.6,787.4 L721.1,799.7" fill="none" stroke="#0a0a0a" stroke-width="1.84" stroke-linejoin="round" stroke-linecap="round" />
<path d="M699.7,826.0 L726.7,801.3 L747.0,797.0" fill="none" stroke="#0a0a0a" stroke-width="1.38" stroke-linejoin="round" stroke-linecap="round" />
<ellipse cx="730.1" cy="795.8" rx="5" ry="3.3" fill="#fff" stroke="#0a0a0a" stroke-width="2.76" transform="rotate(-8 730.1 795.8)" />
<path d="M470.4,906.6 L498.9,912 L515,917.3 L531,923.6 L537.2,928 L535.4,931.6 L520.3,934.2 L506,924.4 L472.2,918.2 Z" fill="#fff" stroke="#0a0a0a" stroke-width="2.07" stroke-linejoin="round" stroke-linecap="round" />
<path d="M475.0,911.0 L500.0,916.0" fill="none" stroke="#0a0a0a" stroke-width="1.38" stroke-linejoin="round" stroke-linecap="round" />
<ellipse cx="522" cy="926" rx="5" ry="3.5" fill="#fff" stroke="#0a0a0a" stroke-width="2.07" transform="rotate(0 522 926)" />
<path d="M390.3,901.3 C390.9,897.5 393.5,898.6 395.6,897.7 C397.7,896.8 401.4,894.5 408.0,893.3 C414.6,892.1 446.0,887.0 452.6,887.0 C459.2,887.0 463.1,891.0 465.0,893.3 C466.9,895.6 468.6,902.8 468.6,906.6 C468.6,910.4 466.4,922.7 465.0,926.2 C463.6,929.7 461.8,934.8 456.2,936.9 C450.6,939.0 423.4,943.0 417.0,944.0 C410.6,945.0 403.9,946.2 401.0,945.8 C398.1,945.4 393.2,942.3 392.0,940.5 C390.8,938.7 390.5,934.6 390.3,930.0 C390.1,925.4 389.7,905.1 390.3,901.3 Z" fill="#fff" stroke="#0a0a0a" stroke-width="2.30" stroke-linejoin="round" stroke-linecap="round" />
<path d="M400.0,906.6 C400.9,902.6 401.9,898.1 408.0,896.0 C414.1,893.9 446.2,889.1 452.6,889.0 C459.0,888.9 461.4,892.9 463.0,895.0 C464.6,897.1 466.0,903.5 466.0,907.0 C466.0,910.5 464.3,921.9 463.0,925.0 C461.7,928.1 460.4,932.0 455.0,934.0 C449.6,936.0 422.9,941.2 417.0,942.0 C411.1,942.8 406.0,942.4 404.0,941.0 C402.0,939.6 400.5,934.0 400.0,930.0 C399.5,926.0 399.1,910.6 400.0,906.6 Z" fill="none" stroke="#0a0a0a" stroke-width="2.30" stroke-linejoin="round" stroke-linecap="round" />
<path d="M406.3,906.6 C407.0,903.0 406.2,902.0 411.6,900.4 C417.0,898.8 446.8,893.6 452.6,893.3 C458.4,893.0 460.3,895.9 461.5,897.7 C462.7,899.5 463.3,905.3 463.3,908.4 C463.3,911.5 462.7,921.7 461.5,924.4 C460.3,927.1 458.6,930.1 452.6,931.6 C446.6,933.1 415.4,936.9 409.9,936.9 C404.4,936.9 405.8,935.1 405.4,931.6 C405.0,928.1 405.6,910.2 406.3,906.6 Z" fill="#fff" stroke="#0a0a0a" stroke-width="2.30" stroke-linejoin="round" stroke-linecap="round" />
<ellipse cx="435.6" cy="907.5" rx="11.5" ry="9.8" fill="#fff" stroke="#0a0a0a" stroke-width="2.07" transform="rotate(-10 435.6 907.5)" />
<path d="M427,900 Q441,897 444,911" fill="none" stroke="#0a0a0a" stroke-width="1.38" stroke-linejoin="round" stroke-linecap="round" />
<ellipse cx="417" cy="933.3" rx="5" ry="2.5" fill="#fff" stroke="#0a0a0a" stroke-width="2.07" transform="rotate(-8 417 933.3)" />
<path d="M368,878.1 L370.7,872.8 L409.9,863 L415.2,864.8 L450.8,887 L408,893.3 L395.6,897.7 Z" fill="#fff" stroke="#0a0a0a" stroke-width="2.18" stroke-linejoin="round" stroke-linecap="round" />
<ellipse cx="392" cy="881.7" rx="4.5" ry="3.7" fill="#fff" stroke="#0a0a0a" stroke-width="2.07" transform="rotate(0 392 881.7)" />
<ellipse cx="409.9" cy="890.6" rx="4.5" ry="3.7" fill="#fff" stroke="#0a0a0a" stroke-width="2.07" transform="rotate(0 409.9 890.6)" />
<path d="M388,931 Q383,934 384,941 L389,942" fill="#fff" stroke="#0a0a0a" stroke-width="2.30" stroke-linejoin="round" stroke-linecap="round" />
<path d="M832.7,808.6 L866.4,803 L918.4,804.4 L936.7,813.5 L938.1,818.4 L921.2,821.2 L900.1,811.4 L834,810.7 Z" fill="#fff" stroke="#0a0a0a" stroke-width="2.07" stroke-linejoin="round" stroke-linecap="round" />
<path d="M866.0,806.0 L890.0,808.0" fill="none" stroke="#0a0a0a" stroke-width="1.38" stroke-linejoin="round" stroke-linecap="round" />
<ellipse cx="920.5" cy="812.8" rx="5" ry="3.8" fill="#fff" stroke="#0a0a0a" stroke-width="2.07" transform="rotate(0 920.5 812.8)" />
<path d="M849.5,758.0 C848.4,755.6 854.6,744.7 856.6,742.5 C858.6,740.3 864.4,737.5 869.2,736.2 C874.0,734.9 897.2,728.9 904.4,729.8 C911.6,730.7 936.8,743.2 940.9,745.3 C945.0,747.4 943.7,749.9 945.1,751.0 C946.5,752.1 953.9,754.8 955.0,756.6 C956.1,758.4 956.4,766.0 956.4,769.2 C956.4,772.4 955.6,786.1 955.0,788.9 C954.4,791.7 955.8,795.6 950.7,797.3 C945.6,799.0 910.6,805.1 904.4,805.8 C898.2,806.5 891.9,805.4 888.9,804.4 C885.9,803.4 876.9,799.8 874.8,796.0 C872.7,792.2 870.3,770.2 867.8,766.4 C865.3,762.6 850.6,760.4 849.5,758.0 Z" fill="#fff" stroke="#0a0a0a" stroke-width="2.30" stroke-linejoin="round" stroke-linecap="round" />
<path d="M867.8,766.4 C868.5,768.7 870.8,775.1 872.0,780.0 C873.2,784.9 874.3,793.3 874.8,796.0" fill="none" stroke="#0a0a0a" stroke-width="1.84" stroke-linejoin="round" stroke-linecap="round" />
<path d="M886.1,793.1 C885.9,790.1 886.7,782.3 887.5,779.0 C888.3,775.7 891.1,767.1 893.1,765.0 C895.1,762.9 898.2,762.3 904.4,760.8 C910.6,759.3 940.6,752.8 946.5,752.3 C952.4,751.8 953.8,754.6 955.0,756.6 C956.2,758.6 956.4,765.4 956.4,769.2 C956.4,773.0 955.7,785.6 955.0,788.9 C954.3,792.2 956.6,795.3 950.7,797.3 C944.8,799.3 911.6,805.0 904.4,805.8 C897.2,806.6 891.0,805.9 888.9,804.4 C886.8,802.9 886.3,796.1 886.1,793.1 Z" fill="#fff" stroke="#0a0a0a" stroke-width="2.53" stroke-linejoin="round" stroke-linecap="round" />
<path d="M893.1,784.7 C893.4,781.9 896.7,774.3 898.7,772.0 C900.7,769.7 904.8,766.6 910.0,765.0 C915.2,763.4 939.0,758.3 943.7,758.0 C948.4,757.7 949.8,759.1 950.7,762.2 C951.6,765.3 951.9,781.4 951.4,784.7 C950.9,788.0 953.0,789.0 946.5,790.3 C940.0,791.6 902.1,796.6 895.9,795.9 C889.7,795.2 892.8,787.5 893.1,784.7 Z" fill="#fff" stroke="#0a0a0a" stroke-width="2.30" stroke-linejoin="round" stroke-linecap="round" />
<path d="M940.9,759.4 L940.9,781.9 L894.5,790.3" fill="none" stroke="#0a0a0a" stroke-width="1.72" stroke-linejoin="round" stroke-linecap="round" />
<path d="M897,788 Q894,775 902,769" fill="none" stroke="#0a0a0a" stroke-width="1.84" stroke-linejoin="round" stroke-linecap="round" />
<ellipse cx="908.6" cy="739.7" rx="5" ry="3.5" fill="#fff" stroke="#0a0a0a" stroke-width="2.07" transform="rotate(0 908.6 739.7)" />
<ellipse cx="928.3" cy="748.1" rx="5" ry="3.5" fill="#fff" stroke="#0a0a0a" stroke-width="2.07" transform="rotate(0 928.3 748.1)" />
<ellipse cx="931.8" cy="788.9" rx="5" ry="2" fill="#fff" stroke="#0a0a0a" stroke-width="2.07" transform="rotate(-6 931.8 788.9)" />
<ellipse cx="920.5" cy="861" rx="8" ry="5.6" fill="#fff" stroke="#0a0a0a" stroke-width="2.99" transform="rotate(0 920.5 861)" />
<ellipse cx="920.5" cy="861" rx="3.3" ry="2.3" fill="#fff" stroke="#0a0a0a" stroke-width="2.53" transform="rotate(0 920.5 861)" />
<ellipse cx="920.3" cy="879" rx="8" ry="5.4" fill="#fff" stroke="#0a0a0a" stroke-width="2.99" transform="rotate(0 920.3 879)" />
<ellipse cx="920.3" cy="879" rx="3.3" ry="2.3" fill="#fff" stroke="#0a0a0a" stroke-width="2.53" transform="rotate(0 920.3 879)" />
<path d="M914.8,905.0 L914.8,891.0 Q919.0,888.0 923.2,891.0 L923.2,905.0" fill="#fff" stroke="#0a0a0a" stroke-width="2.53" stroke-linejoin="round" stroke-linecap="round" />
<path d="M915.0,893.0 L917.0,894.0" fill="none" stroke="#0a0a0a" stroke-width="1.26" stroke-linejoin="round" stroke-linecap="round" />
<path d="M923.0,893.0 L921.0,894.0" fill="none" stroke="#0a0a0a" stroke-width="1.26" stroke-linejoin="round" stroke-linecap="round" />
<path d="M915.0,896.0 L917.0,897.0" fill="none" stroke="#0a0a0a" stroke-width="1.26" stroke-linejoin="round" stroke-linecap="round" />
<path d="M923.0,896.0 L921.0,897.0" fill="none" stroke="#0a0a0a" stroke-width="1.26" stroke-linejoin="round" stroke-linecap="round" />
<path d="M915.0,899.0 L917.0,900.0" fill="none" stroke="#0a0a0a" stroke-width="1.26" stroke-linejoin="round" stroke-linecap="round" />
<path d="M923.0,899.0 L921.0,900.0" fill="none" stroke="#0a0a0a" stroke-width="1.26" stroke-linejoin="round" stroke-linecap="round" />
<path d="M915.0,902.0 L917.0,903.0" fill="none" stroke="#0a0a0a" stroke-width="1.26" stroke-linejoin="round" stroke-linecap="round" />
<path d="M923.0,902.0 L921.0,903.0" fill="none" stroke="#0a0a0a" stroke-width="1.26" stroke-linejoin="round" stroke-linecap="round" />
<path d="M910.5,906.5 L919,903.5 L927.5,906.5 L927.5,913 L919,916 L910.5,913 Z" fill="#fff" stroke="#0a0a0a" stroke-width="2.99" stroke-linejoin="round" stroke-linecap="round" />
<path d="M913.0,909.0 L919.0,911.0 L925.0,909.0" fill="none" stroke="#0a0a0a" stroke-width="1.38" stroke-linejoin="round" stroke-linecap="round" />
<ellipse cx="395.9" cy="960.6" rx="11.5" ry="6.2" fill="#fff" stroke="#0a0a0a" stroke-width="2.99" transform="rotate(0 395.9 960.6)" />
<ellipse cx="395.9" cy="960.6" rx="5" ry="2.8" fill="#fff" stroke="#0a0a0a" stroke-width="3.45" transform="rotate(0 395.9 960.6)" />
<path d="M390.3,1028.0 L390.3,973.0 Q395.3,970.0 400.3,973.0 L400.3,1028.0" fill="#fff" stroke="#0a0a0a" stroke-width="2.76" stroke-linejoin="round" stroke-linecap="round" />
<path d="M390.6,975.0 L392.5,976.0" fill="none" stroke="#0a0a0a" stroke-width="1.26" stroke-linejoin="round" stroke-linecap="round" />
<path d="M400.0,975.0 L398.1,976.0" fill="none" stroke="#0a0a0a" stroke-width="1.26" stroke-linejoin="round" stroke-linecap="round" />
<path d="M390.6,978.0 L392.5,979.0" fill="none" stroke="#0a0a0a" stroke-width="1.26" stroke-linejoin="round" stroke-linecap="round" />
<path d="M400.0,978.0 L398.1,979.0" fill="none" stroke="#0a0a0a" stroke-width="1.26" stroke-linejoin="round" stroke-linecap="round" />
<path d="M390.6,981.0 L392.5,982.0" fill="none" stroke="#0a0a0a" stroke-width="1.26" stroke-linejoin="round" stroke-linecap="round" />
<path d="M400.0,981.0 L398.1,982.0" fill="none" stroke="#0a0a0a" stroke-width="1.26" stroke-linejoin="round" stroke-linecap="round" />
<path d="M390.6,984.0 L392.5,985.0" fill="none" stroke="#0a0a0a" stroke-width="1.26" stroke-linejoin="round" stroke-linecap="round" />
<path d="M400.0,984.0 L398.1,985.0" fill="none" stroke="#0a0a0a" stroke-width="1.26" stroke-linejoin="round" stroke-linecap="round" />
<path d="M390.6,987.0 L392.5,988.0" fill="none" stroke="#0a0a0a" stroke-width="1.26" stroke-linejoin="round" stroke-linecap="round" />
<path d="M400.0,987.0 L398.1,988.0" fill="none" stroke="#0a0a0a" stroke-width="1.26" stroke-linejoin="round" stroke-linecap="round" />
<path d="M390.6,990.0 L392.5,991.0" fill="none" stroke="#0a0a0a" stroke-width="1.26" stroke-linejoin="round" stroke-linecap="round" />
<path d="M400.0,990.0 L398.1,991.0" fill="none" stroke="#0a0a0a" stroke-width="1.26" stroke-linejoin="round" stroke-linecap="round" />
<path d="M390.6,993.0 L392.5,994.0" fill="none" stroke="#0a0a0a" stroke-width="1.26" stroke-linejoin="round" stroke-linecap="round" />
<path d="M400.0,993.0 L398.1,994.0" fill="none" stroke="#0a0a0a" stroke-width="1.26" stroke-linejoin="round" stroke-linecap="round" />
<path d="M390.6,996.0 L392.5,997.0" fill="none" stroke="#0a0a0a" stroke-width="1.26" stroke-linejoin="round" stroke-linecap="round" />
<path d="M400.0,996.0 L398.1,997.0" fill="none" stroke="#0a0a0a" stroke-width="1.26" stroke-linejoin="round" stroke-linecap="round" />
<path d="M390.6,999.0 L392.5,1000.0" fill="none" stroke="#0a0a0a" stroke-width="1.26" stroke-linejoin="round" stroke-linecap="round" />
<path d="M400.0,999.0 L398.1,1000.0" fill="none" stroke="#0a0a0a" stroke-width="1.26" stroke-linejoin="round" stroke-linecap="round" />
<path d="M390.6,1002.0 L392.5,1003.0" fill="none" stroke="#0a0a0a" stroke-width="1.26" stroke-linejoin="round" stroke-linecap="round" />
<path d="M400.0,1002.0 L398.1,1003.0" fill="none" stroke="#0a0a0a" stroke-width="1.26" stroke-linejoin="round" stroke-linecap="round" />
<path d="M390.6,1005.0 L392.5,1006.0" fill="none" stroke="#0a0a0a" stroke-width="1.26" stroke-linejoin="round" stroke-linecap="round" />
<path d="M400.0,1005.0 L398.1,1006.0" fill="none" stroke="#0a0a0a" stroke-width="1.26" stroke-linejoin="round" stroke-linecap="round" />
<path d="M390.6,1008.0 L392.5,1009.0" fill="none" stroke="#0a0a0a" stroke-width="1.26" stroke-linejoin="round" stroke-linecap="round" />
<path d="M400.0,1008.0 L398.1,1009.0" fill="none" stroke="#0a0a0a" stroke-width="1.26" stroke-linejoin="round" stroke-linecap="round" />
<path d="M390.6,1011.0 L392.5,1012.0" fill="none" stroke="#0a0a0a" stroke-width="1.26" stroke-linejoin="round" stroke-linecap="round" />
<path d="M400.0,1011.0 L398.1,1012.0" fill="none" stroke="#0a0a0a" stroke-width="1.26" stroke-linejoin="round" stroke-linecap="round" />
<path d="M390.6,1014.0 L392.5,1015.0" fill="none" stroke="#0a0a0a" stroke-width="1.26" stroke-linejoin="round" stroke-linecap="round" />
<path d="M400.0,1014.0 L398.1,1015.0" fill="none" stroke="#0a0a0a" stroke-width="1.26" stroke-linejoin="round" stroke-linecap="round" />
<path d="M390.6,1017.0 L392.5,1018.0" fill="none" stroke="#0a0a0a" stroke-width="1.26" stroke-linejoin="round" stroke-linecap="round" />
<path d="M400.0,1017.0 L398.1,1018.0" fill="none" stroke="#0a0a0a" stroke-width="1.26" stroke-linejoin="round" stroke-linecap="round" />
<path d="M390.6,1020.0 L392.5,1021.0" fill="none" stroke="#0a0a0a" stroke-width="1.26" stroke-linejoin="round" stroke-linecap="round" />
<path d="M400.0,1020.0 L398.1,1021.0" fill="none" stroke="#0a0a0a" stroke-width="1.26" stroke-linejoin="round" stroke-linecap="round" />
<path d="M390.6,1023.0 L392.5,1024.0" fill="none" stroke="#0a0a0a" stroke-width="1.26" stroke-linejoin="round" stroke-linecap="round" />
<path d="M400.0,1023.0 L398.1,1024.0" fill="none" stroke="#0a0a0a" stroke-width="1.26" stroke-linejoin="round" stroke-linecap="round" />
<path d="M384.4,1029 L394,1025.6 L404.4,1029 L404.4,1037 L394,1040.6 L384.4,1037 Z" fill="#fff" stroke="#0a0a0a" stroke-width="2.99" stroke-linejoin="round" stroke-linecap="round" />
<ellipse cx="394.4" cy="1029.5" rx="8" ry="3" fill="none" stroke="#0a0a0a" stroke-width="1.49" transform="rotate(0 394.4 1029.5)" />
<path d="M526.6,981.7 C526.6,976.4 528.0,969.2 532.0,965.0 C536.0,960.8 544.6,957.2 550.3,956.7 C556.0,956.2 562.4,958.6 566.0,962.0 C569.6,965.4 571.7,971.1 571.7,976.8 C571.7,982.5 570.0,991.7 566.0,996.0 C562.0,1000.3 553.6,1002.2 547.9,1002.4 C542.2,1002.6 535.5,1000.5 532.0,997.0 C528.5,993.5 526.6,987.0 526.6,981.7 Z" fill="#fff" stroke="#0a0a0a" stroke-width="2.53" stroke-linejoin="round" stroke-linecap="round" />
<ellipse cx="552.8" cy="979.8" rx="18.8" ry="21.5" fill="#fff" stroke="#0a0a0a" stroke-width="2.53" transform="rotate(20 552.8 979.8)" />
<ellipse cx="552.2" cy="981.1" rx="5.5" ry="7.5" fill="#fff" stroke="#0a0a0a" stroke-width="2.30" transform="rotate(30 552.2 981.1)" />
<path d="M529,986 Q531,995 536,998 L534,990 Z" fill="#0a0a0a" stroke="#0a0a0a" stroke-width="2.88" stroke-linejoin="round" stroke-linecap="round" />
<path d="M562.5,1014.6 L569.8,1009.7 L578.4,1008.5 L590.5,1001.2 L605.2,994.5 L614.9,995.1 L622.2,1002.4 L624.6,1008.5 L622,1035 L618.6,1035.3 L607.6,1032.8 L594.2,1034.1 L575.9,1036.5 L565,1034.1 L561.9,1034 Z" fill="#fff" stroke="#0a0a0a" stroke-width="2.53" stroke-linejoin="round" stroke-linecap="round" />
<path d="M568.6,1014.0 L568.6,1034.1" fill="none" stroke="#0a0a0a" stroke-width="1.84" stroke-linejoin="round" stroke-linecap="round" />
<path d="M602,999 Q598,1010 601,1030" fill="none" stroke="#0a0a0a" stroke-width="1.61" stroke-linejoin="round" stroke-linecap="round" />
<ellipse cx="575.9" cy="1013.5" rx="5" ry="3.3" fill="#fff" stroke="#0a0a0a" stroke-width="2.30" transform="rotate(15 575.9 1013.5)" />
<ellipse cx="620" cy="1021" rx="11" ry="13.4" fill="#fff" stroke="#0a0a0a" stroke-width="1.84" transform="rotate(0 620 1021)" />
<ellipse cx="622.2" cy="1021.9" rx="11.3" ry="13.4" fill="#fff" stroke="#0a0a0a" stroke-width="2.76" transform="rotate(0 622.2 1021.9)" />
<path d="M572.3,1087.7 L572.3,1054.3 Q576.8,1051.3 581.3,1054.3 L581.3,1087.7" fill="#fff" stroke="#0a0a0a" stroke-width="2.53" stroke-linejoin="round" stroke-linecap="round" />
<path d="M572.6,1056.3 L574.5,1057.3" fill="none" stroke="#0a0a0a" stroke-width="1.26" stroke-linejoin="round" stroke-linecap="round" />
<path d="M581.0,1056.3 L579.1,1057.3" fill="none" stroke="#0a0a0a" stroke-width="1.26" stroke-linejoin="round" stroke-linecap="round" />
<path d="M572.6,1059.3 L574.5,1060.3" fill="none" stroke="#0a0a0a" stroke-width="1.26" stroke-linejoin="round" stroke-linecap="round" />
<path d="M581.0,1059.3 L579.1,1060.3" fill="none" stroke="#0a0a0a" stroke-width="1.26" stroke-linejoin="round" stroke-linecap="round" />
<path d="M572.6,1062.3 L574.5,1063.3" fill="none" stroke="#0a0a0a" stroke-width="1.26" stroke-linejoin="round" stroke-linecap="round" />
<path d="M581.0,1062.3 L579.1,1063.3" fill="none" stroke="#0a0a0a" stroke-width="1.26" stroke-linejoin="round" stroke-linecap="round" />
<path d="M572.6,1065.3 L574.5,1066.3" fill="none" stroke="#0a0a0a" stroke-width="1.26" stroke-linejoin="round" stroke-linecap="round" />
<path d="M581.0,1065.3 L579.1,1066.3" fill="none" stroke="#0a0a0a" stroke-width="1.26" stroke-linejoin="round" stroke-linecap="round" />
<path d="M572.6,1068.3 L574.5,1069.3" fill="none" stroke="#0a0a0a" stroke-width="1.26" stroke-linejoin="round" stroke-linecap="round" />
<path d="M581.0,1068.3 L579.1,1069.3" fill="none" stroke="#0a0a0a" stroke-width="1.26" stroke-linejoin="round" stroke-linecap="round" />
<path d="M572.6,1071.3 L574.5,1072.3" fill="none" stroke="#0a0a0a" stroke-width="1.26" stroke-linejoin="round" stroke-linecap="round" />
<path d="M581.0,1071.3 L579.1,1072.3" fill="none" stroke="#0a0a0a" stroke-width="1.26" stroke-linejoin="round" stroke-linecap="round" />
<path d="M572.6,1074.3 L574.5,1075.3" fill="none" stroke="#0a0a0a" stroke-width="1.26" stroke-linejoin="round" stroke-linecap="round" />
<path d="M581.0,1074.3 L579.1,1075.3" fill="none" stroke="#0a0a0a" stroke-width="1.26" stroke-linejoin="round" stroke-linecap="round" />
<path d="M572.6,1077.3 L574.5,1078.3" fill="none" stroke="#0a0a0a" stroke-width="1.26" stroke-linejoin="round" stroke-linecap="round" />
<path d="M581.0,1077.3 L579.1,1078.3" fill="none" stroke="#0a0a0a" stroke-width="1.26" stroke-linejoin="round" stroke-linecap="round" />
<path d="M572.6,1080.3 L574.5,1081.3" fill="none" stroke="#0a0a0a" stroke-width="1.26" stroke-linejoin="round" stroke-linecap="round" />
<path d="M581.0,1080.3 L579.1,1081.3" fill="none" stroke="#0a0a0a" stroke-width="1.26" stroke-linejoin="round" stroke-linecap="round" />
<path d="M572.6,1083.3 L574.5,1084.3" fill="none" stroke="#0a0a0a" stroke-width="1.26" stroke-linejoin="round" stroke-linecap="round" />
<path d="M581.0,1083.3 L579.1,1084.3" fill="none" stroke="#0a0a0a" stroke-width="1.26" stroke-linejoin="round" stroke-linecap="round" />
<path d="M569.2,1089 Q569.2,1086.5 576.2,1086.5 Q583.2,1086.5 583.2,1089 L583.2,1093 Q579,1095 576.2,1095 Q572,1095 569.2,1093 Z" fill="#fff" stroke="#0a0a0a" stroke-width="2.76" stroke-linejoin="round" stroke-linecap="round" />
<path d="M407,815 L415,821 L418.5,827.5 L412,828.5 L405,822 Z" fill="#fff" stroke="#0a0a0a" stroke-width="2.53" stroke-linejoin="round" stroke-linecap="round" />
<path d="M409.0,817.5 L406.5,821.5" fill="none" stroke="#0a0a0a" stroke-width="1.38" stroke-linejoin="round" stroke-linecap="round" />
<path d="M411.5,819.5 L409.0,823.5" fill="none" stroke="#0a0a0a" stroke-width="1.38" stroke-linejoin="round" stroke-linecap="round" />
<path d="M414.0,821.5 L411.5,825.5" fill="none" stroke="#0a0a0a" stroke-width="1.38" stroke-linejoin="round" stroke-linecap="round" />
<ellipse cx="416" cy="825.3" rx="3.3" ry="4.2" fill="#fff" stroke="#0a0a0a" stroke-width="2.53" transform="rotate(-30 416 825.3)" />
<path d="M396.4,816.7 L399,810.2 L406.2,807.2 L413.5,812.2 L414.1,819.4 L408.2,826 L401.7,825.3 Z" fill="#0a0a0a" stroke="#0a0a0a" stroke-width="2.99" stroke-linejoin="round" stroke-linecap="round" />
<path d="M399.5,812.5 L405,810 L407.5,818 L401,822 Z" fill="#fff" stroke="#0a0a0a" stroke-width="0.69" stroke-linejoin="round" stroke-linecap="round" />
<path d="M406.5,809.5 L411.5,812.5 L410,815.5 L407.5,814 Z" fill="#fff" stroke="#0a0a0a" stroke-width="0.69" stroke-linejoin="round" stroke-linecap="round" />
<path d="M424,835 Q425,829 431,829 Q437,830 437.5,835 L436,843 Q432,847 427,846.3 Q423,843 424,838 Z" fill="#0a0a0a" stroke="#0a0a0a" stroke-width="2.99" stroke-linejoin="round" stroke-linecap="round" />
<path d="M427,832 Q431,830.5 434,833 L432,836 L428,835.5 Z" fill="#fff" stroke="#0a0a0a" stroke-width="0.57" stroke-linejoin="round" stroke-linecap="round" />
<path d="M426.5,840 L433,838.5 L432,843 L427.5,843.5 Z" fill="#fff" stroke="#0a0a0a" stroke-width="0.57" stroke-linejoin="round" stroke-linecap="round" />
<path d="M325.5,1333 L327,1331.5 L571.4,1268.5 L574.5,1269.5 L575,1275.5 L330,1340.5 L326.5,1339.5 Z" fill="#0a0a0a" stroke="#0a0a0a" stroke-width="1.61" stroke-linejoin="round" stroke-linecap="round" />
<path d="M330.0,1337.8 L573.0,1273.5" fill="none" stroke="#fff" stroke-width="1.03" stroke-linejoin="round" stroke-linecap="round" />
<path d="M320.1,1425.1 L320.6,1411.6 L333,1398.1 L343.7,1397.6 L358.3,1393.1 L384.7,1380.1 L520.8,1346.1 L557.5,1335.8 L641.9,1306.7 L705.1,1287.7 L734.2,1285 L734.2,1306.7 L779.8,1330.7 L792.4,1309.2 L846.8,1333.3 L840.5,1337.1 L815.2,1333.3 L600,1395.9 L560.7,1407 L540,1431.7 L511.3,1439.7 L479.4,1431.7 L435,1443.1 L418.5,1447.6 L409.5,1463.3 L396,1466.7 L391.5,1465.6 L326.2,1428.5 Z" fill="#fff" stroke="#0a0a0a" stroke-width="0.00" stroke-linejoin="round" stroke-linecap="round" />
<path d="M320.1,1425.1 L320.6,1411.6 Q322,1404 325.1,1402.6 Q330,1398.5 333,1398.1 L342,1397 L343.7,1399.2 L343.7,1421.7 Z" fill="#fff" stroke="#0a0a0a" stroke-width="2.07" stroke-linejoin="round" stroke-linecap="round" />
<path d="M322.5,1424.0 L322.5,1410.0 L327.0,1402.0" fill="none" stroke="#0a0a0a" stroke-width="1.15" stroke-linejoin="round" stroke-linecap="round" />
<ellipse cx="330.7" cy="1412.7" rx="3.6" ry="3.6" fill="#fff" stroke="#0a0a0a" stroke-width="2.07" transform="rotate(0 330.7 1412.7)" />
<path d="M343.7,1397.6 L358.3,1393.1 L361.1,1386.9 L364.5,1385.7 L384.7,1380.1 L388.1,1381.2 L393.7,1384.6 L430.0,1373.2 L520.8,1346.1 L530.4,1350.9 L551.1,1344.5 L557.5,1335.8 L638.1,1313.0 L641.9,1306.7 L665.9,1299.1 L673.5,1302.9 L676.0,1301.6 L691.2,1296.6 L701.3,1301.6 L705.1,1302.9" fill="none" stroke="#0a0a0a" stroke-width="2.07" stroke-linejoin="round" stroke-linecap="round" />
<path d="M358.3,1393.1 L367.9,1402.6" fill="none" stroke="#0a0a0a" stroke-width="2.07" stroke-linejoin="round" stroke-linecap="round" />
<path d="M361.1,1386.9 L371.2,1395.9" fill="none" stroke="#0a0a0a" stroke-width="2.07" stroke-linejoin="round" stroke-linecap="round" />
<path d="M393.7,1384.6 L399.3,1393.0" fill="none" stroke="#0a0a0a" stroke-width="2.07" stroke-linejoin="round" stroke-linecap="round" />
<path d="M371.2,1395.9 L393.7,1390.0" fill="none" stroke="#0a0a0a" stroke-width="1.38" stroke-linejoin="round" stroke-linecap="round" />
<path d="M520.8,1346.1 L540.0,1359.7" fill="none" stroke="#0a0a0a" stroke-width="2.07" stroke-linejoin="round" stroke-linecap="round" />
<path d="M551.1,1344.5 L563.8,1352.5" fill="none" stroke="#0a0a0a" stroke-width="2.07" stroke-linejoin="round" stroke-linecap="round" />
<path d="M557.5,1335.8 L568.6,1342.9" fill="none" stroke="#0a0a0a" stroke-width="2.07" stroke-linejoin="round" stroke-linecap="round" />
<path d="M563.8,1352.5 L568.6,1342.9" fill="none" stroke="#0a0a0a" stroke-width="2.07" stroke-linejoin="round" stroke-linecap="round" />
<path d="M638.1,1313.0 L650.7,1319.3" fill="none" stroke="#0a0a0a" stroke-width="2.07" stroke-linejoin="round" stroke-linecap="round" />
<path d="M641.9,1306.7 L650.7,1314.0" fill="none" stroke="#0a0a0a" stroke-width="1.49" stroke-linejoin="round" stroke-linecap="round" />
<path d="M665.9,1299.1 L676.0,1308.0" fill="none" stroke="#0a0a0a" stroke-width="1.49" stroke-linejoin="round" stroke-linecap="round" />
<path d="M343.7,1409.4 L367.9,1402.6 L371.2,1401.5 L399.3,1393.0 L435.0,1383.5 L509.7,1361.3 L530.4,1354.9 L540.0,1359.7 L563.8,1352.5 L568.6,1342.9 L600.0,1335.0 L650.7,1319.3 L701.3,1306.7 L705.1,1306.0" fill="none" stroke="#0a0a0a" stroke-width="2.07" stroke-linejoin="round" stroke-linecap="round" />
<path d="M343.7,1421.7 L369.0,1411.6 L435.0,1392.5 L509.7,1369.2 L516.0,1366.8 L563.8,1355.0 L600.0,1342.1 L705.1,1314.3" fill="none" stroke="#0a0a0a" stroke-width="2.07" stroke-linejoin="round" stroke-linecap="round" />
<path d="M705.1,1311.8 L705.1,1287.7 L708.9,1285.2 L727.9,1282.1 Q733,1283 734.2,1290.2 L734.2,1306.7 Z" fill="#fff" stroke="#0a0a0a" stroke-width="2.07" stroke-linejoin="round" stroke-linecap="round" />
<path d="M707.0,1288.0 L707.0,1311.0" fill="none" stroke="#0a0a0a" stroke-width="1.15" stroke-linejoin="round" stroke-linecap="round" />
<ellipse cx="727.9" cy="1297.3" rx="3.6" ry="3.6" fill="#fff" stroke="#0a0a0a" stroke-width="2.07" transform="rotate(0 727.9 1297.3)" />
<path d="M708.9,1313.0 L749.4,1338.3 L779.8,1330.7 L734.2,1306.7" fill="none" stroke="#0a0a0a" stroke-width="2.07" stroke-linejoin="round" stroke-linecap="round" />
<path d="M783.6,1332 L783.6,1319.3 L792.4,1309.2 L815.2,1319.3 L846.8,1333.3 L840.5,1337.1 L825.3,1334.5 L815.2,1329 Z" fill="#fff" stroke="#0a0a0a" stroke-width="2.07" stroke-linejoin="round" stroke-linecap="round" />
<ellipse cx="835.4" cy="1333.3" rx="4.2" ry="3.2" fill="#fff" stroke="#0a0a0a" stroke-width="2.07" transform="rotate(0 835.4 1333.3)" />
<path d="M367.8,1414.0 L405.0,1434.2" fill="none" stroke="#0a0a0a" stroke-width="2.07" stroke-linejoin="round" stroke-linecap="round" />
<path d="M373.7,1411.5 L407.5,1430.8" fill="none" stroke="#0a0a0a" stroke-width="1.61" stroke-linejoin="round" stroke-linecap="round" />
<path d="M407.2,1435.2 L430.0,1426.9 L524.0,1400.6 L600.0,1377.5 L779.8,1332.0 L812.7,1325.7 L817.7,1329.5" fill="none" stroke="#0a0a0a" stroke-width="2.07" stroke-linejoin="round" stroke-linecap="round" />
<path d="M408.3,1442.0 L430.0,1434.9 L466.6,1424.5 L500.1,1428.5 L533.6,1421.3 L549.5,1403.0 L600.0,1385.5 L817.7,1330.7" fill="none" stroke="#0a0a0a" stroke-width="2.07" stroke-linejoin="round" stroke-linecap="round" />
<path d="M416.2,1448.7 L430.0,1446.0 L479.4,1431.7 L511.3,1439.7 L540.0,1431.7 L560.7,1407.0 L600.0,1395.9 L770.0,1352.8 L815.2,1340.0" fill="none" stroke="#0a0a0a" stroke-width="2.07" stroke-linejoin="round" stroke-linecap="round" />
<path d="M503.0,1432.0 L507.5,1436.5" fill="none" stroke="#0a0a0a" stroke-width="1.49" stroke-linejoin="round" stroke-linecap="round" />
<path d="M536.8,1423.0 L541.5,1427.0" fill="none" stroke="#0a0a0a" stroke-width="1.49" stroke-linejoin="round" stroke-linecap="round" />
<path d="M524.0,1400.6 L544.7,1407.0" fill="none" stroke="#0a0a0a" stroke-width="1.49" stroke-linejoin="round" stroke-linecap="round" />
<path d="M549.5,1403.0 L555.0,1408.0" fill="none" stroke="#0a0a0a" stroke-width="1.49" stroke-linejoin="round" stroke-linecap="round" />
<path d="M320.1,1425.1 L326.2,1428.5 L391.5,1465.6 L396.0,1466.7 L409.5,1463.3 L418.5,1447.6 L416.2,1448.7" fill="none" stroke="#0a0a0a" stroke-width="2.07" stroke-linejoin="round" stroke-linecap="round" />
<path d="M326.2,1427.4 L363.4,1417.2" fill="none" stroke="#0a0a0a" stroke-width="1.61" stroke-linejoin="round" stroke-linecap="round" />
<path d="M357.7,1448.7 L357.7,1438.6 L369,1433 L391.5,1465.6 Z" fill="#fff" stroke="#0a0a0a" stroke-width="2.07" stroke-linejoin="round" stroke-linecap="round" />
<path d="M382.5,1446.5 L405.0,1442.0" fill="none" stroke="#0a0a0a" stroke-width="1.61" stroke-linejoin="round" stroke-linecap="round" />
<path d="M393.0,1454.0 L397.0,1459.0" fill="none" stroke="#0a0a0a" stroke-width="1.15" stroke-linejoin="round" stroke-linecap="round" />
<ellipse cx="396" cy="1462.2" rx="3" ry="2.5" fill="#fff" stroke="#0a0a0a" stroke-width="1.84" transform="rotate(30 396 1462.2)" />
<path d="M327.5,1549.7 L346.2,1542.2 L350.0,1527.2 L395.0,1514.0 L404.3,1518.7 L414.0,1522.0 L425.0,1523.4 L438.0,1523.5 L451.2,1520.6 L466.0,1514.0 L479.3,1505.6 L490.6,1493.4 L520.0,1485.0 L590.0,1461.9 L616.2,1454.4 L623.7,1444.0 L666.9,1430.0 L676.2,1432.8 L698.7,1425.3 L702.5,1418.7 L728.7,1411.6 L740.0,1415.9 L753.1,1420.6 L764.3,1418.4 L772.8,1422.9 L770.0,1424.4 L758.7,1428.1 L738.1,1421.0 L711.8,1428.1 L710.0,1434.7 L687.5,1440.3 L678.1,1437.5 L629.4,1461.0 L590.0,1472.2 L520.0,1495.3 L500.0,1500.9 L488.7,1513.1 L476.0,1522.0 L462.5,1528.1 L447.0,1532.0 L432.5,1532.8 L419.0,1531.5 L408.1,1528.1 L396.9,1523.4 L361.2,1533.7 L355.6,1548.7 L335.0,1555.3 Z" fill="#0a0a0a" stroke="#0a0a0a" stroke-width="0.8" stroke-linejoin="round"/>
<circle cx="259.5" cy="1460.3" r="37.2" fill="#fff" stroke="#0a0a0a" stroke-width="1.5"/>
<path d="M241,1438.5 Q243,1436 245,1438 Q252,1444 258,1452.5 L266,1451 Q271,1451 273,1456 L278,1471 Q278,1475.5 274,1474.5 L269.5,1469.5 L271,1468 L267.5,1465 L269,1463.5 L265.2,1459 L265,1467.5 L268.5,1471 Q269,1474.5 266.5,1477 L264.5,1490 Q263,1491.5 262.5,1489 Q261,1475 257,1463 Q252,1450 241,1438.5 Z" fill="#0a0a0a" stroke="#0a0a0a" stroke-width="0.92" stroke-linejoin="round" stroke-linecap="round" />

<defs>
 <clipPath id="lc"><circle cx="966.7" cy="1499.2" r="99.2"/></clipPath>
 <linearGradient id="lg" x1="0" y1="0" x2="1" y2="1">
  <stop offset="0" stop-color="#cf8a8a"/><stop offset="0.5" stop-color="#d39494"/><stop offset="1" stop-color="#d9a1a1"/>
 </linearGradient>
 <path id="arc" d="M905,1446 Q967,1422 1029,1446"/>
</defs>
<g clip-path="url(#lc)">
 <rect x="860" y="1395" width="210" height="210" fill="url(#lg)"/>
 <path d="M860,1470 L905,1445 L905,1500 L860,1530 Z" fill="#c27a7a" opacity="0.55"/>
 <path d="M860,1540 L912,1560 L950,1600 L860,1600 Z" fill="#c98585" opacity="0.7"/>
 <path d="M870,1575 L930,1550 L940,1560 L880,1590 Z" fill="#b77272" opacity="0.5"/>
 <path d="M1030,1460 L1070,1470 L1070,1520 L1030,1505 Z" fill="#e2b0b0" opacity="0.8"/>
 <path d="M1030,1505 L1070,1530 L1070,1560 L1010,1600 L990,1600 L1030,1550 Z" fill="#d69a9a" opacity="0.7"/>
 <path d="M1035,1530 L1060,1500 L1065,1510 L1040,1545 Z" fill="#e8bcbc" opacity="0.6"/>
 <path d="M870,1420 Q930,1400 1000,1398 L1060,1420 L1060,1440 Q990,1415 900,1435 Z" fill="#c88383" opacity="0.5"/>
</g>
<path d="M906,1430.4 Q967,1410 1028,1430.4 L1028,1500.8 C1028,1530 1012,1560 967,1582.2 C922,1560 906,1530 906,1500.8 Z" fill="#6b6e75"/>
<path d="M908.9,1450.8 Q967,1436 1025.1,1450.8 L1025.1,1500.8 C1025.1,1528 1010,1557 967,1578.8 C924,1557 908.9,1528 908.9,1500.8 Z" fill="#dbd9bf"/>
<path d="M948.8,1439 L985.1,1439 L985.1,1458.7 L967,1466 L948.8,1458.7 Z" fill="#c9484e"/>
<path d="M948.8,1543 L985.1,1543 L985.1,1570 Q976,1576 967,1580 Q958,1576 948.8,1570 Z" fill="#c9484e"/>
<path d="M946.5,1543 L948.8,1543 L948.8,1571 L946.5,1569.5 Z M985.1,1543 L987.4,1543 L987.4,1569.5 L985.1,1571 Z" fill="#6b6e75"/>
<text font-size="15.2" font-weight="bold" fill="#f4f2f2" font-family="Liberation Sans, sans-serif" letter-spacing="0.2"><textPath href="#arc" startOffset="50%" text-anchor="middle">DCAUTO.COM</textPath></text>
<path d="M921.2,1459.4 L952,1459.4 Q965.5,1459.4 965.5,1473 L965.5,1509 Q965.5,1522.6 952,1522.6 L921.2,1522.6 Z M935,1473.2 L935,1509.6 L948,1509.6 Q951.7,1509.6 951.7,1505 L951.7,1477.5 Q951.7,1473.2 948,1473.2 Z" fill="#6b6e75" fill-rule="evenodd" stroke="#e9e3d0" stroke-width="1.2"/>
<path d="M980,1459.4 L1004,1459.4 Q1015,1459.4 1015,1470 L1015,1481.5 L1001.9,1481.5 L1001.9,1473.2 L984.4,1473.2 L984.4,1509.6 L1001.9,1509.6 L1001.9,1498 L1015,1498 L1015,1512 Q1015,1522.6 1004,1522.6 L980,1522.6 Q969.2,1522.6 969.2,1512 L969.2,1470 Q969.2,1459.4 980,1459.4 Z" fill="#6b6e75" stroke="#e9e3d0" stroke-width="1.2"/>
<g fill="none" stroke="#6b6e75" stroke-width="1.3">
 <path d="M925.5,1538.5 L935,1528.8 L944.5,1538.5 M930,1535 L940,1535"/>
 <path d="M948,1528.8 L948,1536.5 Q948,1538.5 951,1538.5 L962,1538.5 Q965,1538.5 965,1536.5 L965,1528.8"/>
 <path d="M968,1529.2 L989,1529.2 M978.5,1529.2 L978.5,1538.5"/>
 <path d="M994,1529.2 L1009,1529.2 Q1012,1529.2 1012,1531.5 L1012,1536.2 Q1012,1538.5 1009,1538.5 L994,1538.5 Q991,1538.5 991,1536.2 L991,1531.5 Q991,1529.2 994,1529.2 Z"/>
</g>

<g font-family="Liberation Sans, sans-serif" fill="#0a0a0a">
<text transform="translate(385.00,74.10) scale(1.08,1)" font-size="24.5" stroke="#0a0a0a" stroke-width="0.8">3</text>
<text transform="translate(400.00,74.10) scale(1.08,1)" font-size="24.5" stroke="#0a0a0a" stroke-width="0.8">2</text>
<text transform="translate(366.50,119.60) scale(1.08,1)" font-size="24.5" stroke="#0a0a0a" stroke-width="0.8">3</text>
<text transform="translate(381.50,119.60) scale(1.08,1)" font-size="24.5" stroke="#0a0a0a" stroke-width="0.8">4</text>
<text transform="translate(429.00,119.60) scale(1.08,1)" font-size="24.5" stroke="#0a0a0a" stroke-width="0.8">3</text>
<text transform="translate(444.00,119.60) scale(1.08,1)" font-size="24.5" stroke="#0a0a0a" stroke-width="0.8">3</text>
<text transform="translate(494.00,119.60) scale(1.08,1)" font-size="24.5" stroke="#0a0a0a" stroke-width="0.8">2</text>
<text transform="translate(509.00,119.60) scale(1.08,1)" font-size="24.5" stroke="#0a0a0a" stroke-width="0.8">7</text>
<text transform="translate(562.00,120.60) scale(1.08,1)" font-size="24.5" stroke="#0a0a0a" stroke-width="0.8">3</text>
<path d="M586.20,120.60 L586.20,103.00 L583.70,103.00 Q582.80,105.80 579.60,107.30 L579.60,109.60 Q581.40,109.20 582.50,108.20 L582.50,120.60 Z" fill="#0a0a0a"/>
<text transform="translate(617.00,122.10) scale(1.08,1)" font-size="24.5" stroke="#0a0a0a" stroke-width="0.8">2</text>
<text transform="translate(632.00,122.10) scale(1.08,1)" font-size="24.5" stroke="#0a0a0a" stroke-width="0.8">5</text>
<text transform="translate(680.50,120.10) scale(1.08,1)" font-size="24.5" stroke="#0a0a0a" stroke-width="0.8">2</text>
<text transform="translate(695.50,120.10) scale(1.08,1)" font-size="24.5" stroke="#0a0a0a" stroke-width="0.8">4</text>
<text transform="translate(742.00,120.10) scale(1.08,1)" font-size="24.5" stroke="#0a0a0a" stroke-width="0.8">2</text>
<text transform="translate(757.00,120.10) scale(1.08,1)" font-size="24.5" stroke="#0a0a0a" stroke-width="0.8">3</text>
<text transform="translate(557.00,183.60) scale(1.08,1)" font-size="24.5" stroke="#0a0a0a" stroke-width="0.8">2</text>
<text transform="translate(572.00,183.60) scale(1.08,1)" font-size="24.5" stroke="#0a0a0a" stroke-width="0.8">7</text>
<text transform="translate(554.50,246.10) scale(1.08,1)" font-size="24.5" stroke="#0a0a0a" stroke-width="0.8">3</text>
<text transform="translate(569.50,246.10) scale(1.08,1)" font-size="24.5" stroke="#0a0a0a" stroke-width="0.8">0</text>
<text transform="translate(212.60,306.60) scale(1.08,1)" font-size="24.5" stroke="#0a0a0a" stroke-width="0.8">3</text>
<text transform="translate(227.60,306.60) scale(1.08,1)" font-size="24.5" stroke="#0a0a0a" stroke-width="0.8">5</text>
<text transform="translate(213.00,369.10) scale(1.08,1)" font-size="24.5" stroke="#0a0a0a" stroke-width="0.8">3</text>
<text transform="translate(228.00,369.10) scale(1.08,1)" font-size="24.5" stroke="#0a0a0a" stroke-width="0.8">4</text>
<text transform="translate(543.00,352.60) scale(1.08,1)" font-size="24.5" stroke="#0a0a0a" stroke-width="0.8">2</text>
<text transform="translate(558.00,352.60) scale(1.08,1)" font-size="24.5" stroke="#0a0a0a" stroke-width="0.8">6</text>
<text transform="translate(629.50,352.60) scale(1.08,1)" font-size="24.5" stroke="#0a0a0a" stroke-width="0.8">2</text>
<text transform="translate(644.50,352.60) scale(1.08,1)" font-size="24.5" stroke="#0a0a0a" stroke-width="0.8">7</text>
<path d="M55.10,430.60 L55.10,413.00 L52.60,413.00 Q51.70,415.80 48.50,417.30 L48.50,419.60 Q50.30,419.20 51.40,418.20 L51.40,430.60 Z" fill="#0a0a0a"/>
<text transform="translate(57.70,430.60) scale(1.08,1)" font-size="24.5" stroke="#0a0a0a" stroke-width="0.8">3</text>
<path d="M56.00,492.60 L56.00,475.00 L53.50,475.00 Q52.60,477.80 49.40,479.30 L49.40,481.60 Q51.20,481.20 52.30,480.20 L52.30,492.60 Z" fill="#0a0a0a"/>
<text transform="translate(58.60,492.60) scale(1.08,1)" font-size="24.5" stroke="#0a0a0a" stroke-width="0.8">5</text>
<path d="M56.00,555.20 L56.00,537.60 L53.50,537.60 Q52.60,540.40 49.40,541.90 L49.40,544.20 Q51.20,543.80 52.30,542.80 L52.30,555.20 Z" fill="#0a0a0a"/>
<text transform="translate(58.60,555.20) scale(1.08,1)" font-size="24.5" stroke="#0a0a0a" stroke-width="0.8">4</text>
<text transform="translate(215.00,431.60) scale(1.08,1)" font-size="24.5" stroke="#0a0a0a" stroke-width="0.8">3</text>
<text transform="translate(230.00,431.60) scale(1.08,1)" font-size="24.5" stroke="#0a0a0a" stroke-width="0.8">3</text>
<text transform="translate(293.00,495.60) scale(1.08,1)" font-size="24.5" stroke="#0a0a0a" stroke-width="0.8">2</text>
<text transform="translate(308.00,495.60) scale(1.08,1)" font-size="24.5" stroke="#0a0a0a" stroke-width="0.8">7</text>
<text transform="translate(360.50,495.60) scale(1.08,1)" font-size="24.5" stroke="#0a0a0a" stroke-width="0.8">3</text>
<path d="M384.70,495.60 L384.70,478.00 L382.20,478.00 Q381.30,480.80 378.10,482.30 L378.10,484.60 Q379.90,484.20 381.00,483.20 L381.00,495.60 Z" fill="#0a0a0a"/>
<text transform="translate(411.00,495.60) scale(1.08,1)" font-size="24.5" stroke="#0a0a0a" stroke-width="0.8">2</text>
<text transform="translate(426.00,495.60) scale(1.08,1)" font-size="24.5" stroke="#0a0a0a" stroke-width="0.8">8</text>
<text transform="translate(475.80,495.60) scale(1.08,1)" font-size="24.5" stroke="#0a0a0a" stroke-width="0.8">2</text>
<text transform="translate(490.80,495.60) scale(1.08,1)" font-size="24.5" stroke="#0a0a0a" stroke-width="0.8">9</text>
<text transform="translate(537.60,495.60) scale(1.08,1)" font-size="24.5" stroke="#0a0a0a" stroke-width="0.8">3</text>
<text transform="translate(552.60,495.60) scale(1.08,1)" font-size="24.5" stroke="#0a0a0a" stroke-width="0.8">0</text>
<path d="M59.60,618.10 L59.60,600.50 L57.10,600.50 Q56.20,603.30 53.00,604.80 L53.00,607.10 Q54.80,606.70 55.90,605.70 L55.90,618.10 Z" fill="#0a0a0a"/>
<text transform="translate(62.20,618.10) scale(1.08,1)" font-size="24.5" stroke="#0a0a0a" stroke-width="0.8">2</text>
<path d="M311.60,647.60 L311.60,630.00 L309.10,630.00 Q308.20,632.80 305.00,634.30 L305.00,636.60 Q306.80,636.20 307.90,635.20 L307.90,647.60 Z" fill="#0a0a0a"/>
<text transform="translate(314.20,647.60) scale(1.08,1)" font-size="24.5" stroke="#0a0a0a" stroke-width="0.8">9</text>
<text transform="translate(451.80,742.80) scale(1.08,1)" font-size="24.5" stroke="#0a0a0a" stroke-width="0.8">9</text>
<path d="M521.80,743.80 L521.80,726.20 L519.30,726.20 Q518.40,729.00 515.20,730.50 L515.20,732.80 Q517.00,732.40 518.10,731.40 L518.10,743.80 Z" fill="#0a0a0a"/>
<text transform="translate(524.40,743.80) scale(1.08,1)" font-size="24.5" stroke="#0a0a0a" stroke-width="0.8">0</text>
<path d="M126.10,765.60 L126.10,748.00 L123.60,748.00 Q122.70,750.80 119.50,752.30 L119.50,754.60 Q121.30,754.20 122.40,753.20 L122.40,765.60 Z" fill="#0a0a0a"/>
<text transform="translate(128.70,765.60) scale(1.08,1)" font-size="24.5" stroke="#0a0a0a" stroke-width="0.8">8</text>
<path d="M126.60,830.60 L126.60,813.00 L124.10,813.00 Q123.20,815.80 120.00,817.30 L120.00,819.60 Q121.80,819.20 122.90,818.20 L122.90,830.60 Z" fill="#0a0a0a"/>
<text transform="translate(129.20,830.60) scale(1.08,1)" font-size="24.5" stroke="#0a0a0a" stroke-width="0.8">7</text>
<path d="M59.10,873.10 L59.10,855.50 L56.60,855.50 Q55.70,858.30 52.50,859.80 L52.50,862.10 Q54.30,861.70 55.40,860.70 L55.40,873.10 Z" fill="#0a0a0a"/>
<text transform="translate(61.70,873.10) scale(1.08,1)" font-size="24.5" stroke="#0a0a0a" stroke-width="0.8">6</text>
<path d="M63.10,991.90 L63.10,974.30 L60.60,974.30 Q59.70,977.10 56.50,978.60 L56.50,980.90 Q58.30,980.50 59.40,979.50 L59.40,991.90 Z" fill="#0a0a0a"/>
<path d="M73.30,991.90 L73.30,974.30 L70.80,974.30 Q69.90,977.10 66.70,978.60 L66.70,980.90 Q68.50,980.50 69.60,979.50 L69.60,991.90 Z" fill="#0a0a0a"/>
<text transform="translate(315.90,992.90) scale(1.08,1)" font-size="24.5" stroke="#0a0a0a" stroke-width="0.8">3</text>
<text transform="translate(314.20,1055.30) scale(1.08,1)" font-size="24.5" stroke="#0a0a0a" stroke-width="0.8">2</text>
<text transform="translate(459.30,994.60) scale(1.08,1)" font-size="24.5" stroke="#0a0a0a" stroke-width="0.8">2</text>
<text transform="translate(474.30,994.60) scale(1.08,1)" font-size="24.5" stroke="#0a0a0a" stroke-width="0.8">2</text>
<text transform="translate(459.30,1057.00) scale(1.08,1)" font-size="24.5" stroke="#0a0a0a" stroke-width="0.8">2</text>
<text transform="translate(474.30,1057.00) scale(1.08,1)" font-size="24.5" stroke="#0a0a0a" stroke-width="0.8">0</text>
<text transform="translate(461.00,1119.40) scale(1.08,1)" font-size="24.5" stroke="#0a0a0a" stroke-width="0.8">2</text>
<path d="M485.20,1119.40 L485.20,1101.80 L482.70,1101.80 Q481.80,1104.60 478.60,1106.10 L478.60,1108.40 Q480.40,1108.00 481.50,1107.00 L481.50,1119.40 Z" fill="#0a0a0a"/>
<path d="M761.80,931.30 L761.80,913.70 L759.30,913.70 Q758.40,916.50 755.20,918.00 L755.20,920.30 Q757.00,919.90 758.10,918.90 L758.10,931.30 Z" fill="#0a0a0a"/>
<text transform="translate(988.00,840.60) scale(1.08,1)" font-size="24.5" stroke="#0a0a0a" stroke-width="0.8">8</text>
<text transform="translate(988.00,899.60) scale(1.08,1)" font-size="24.5" stroke="#0a0a0a" stroke-width="0.8">7</text>
<text transform="translate(984.60,953.60) scale(1.08,1)" font-size="24.5" stroke="#0a0a0a" stroke-width="0.8">6</text>
<text transform="translate(381,1225.5) scale(0.86,1)" font-size="24" font-weight="bold">5</text>
<path d="M395.5,1225.5 L403,1208.5 L406,1208.5 L398.5,1225.5 Z" fill="#0a0a0a"/>
<path d="M417.10,1225.50 L417.10,1208.40 L414.60,1208.40 Q413.70,1211.20 410.50,1212.70 L410.50,1215.00 Q412.30,1214.60 413.40,1213.60 L413.40,1225.50 Z" fill="#0a0a0a"/>
<text transform="translate(585.8,1225.3) scale(0.86,1)" font-size="24" font-weight="bold">4</text>
<text transform="translate(587,1572.8) scale(0.86,1)" font-size="25.8" font-weight="bold">5</text>
</g>
</svg></body></html>
